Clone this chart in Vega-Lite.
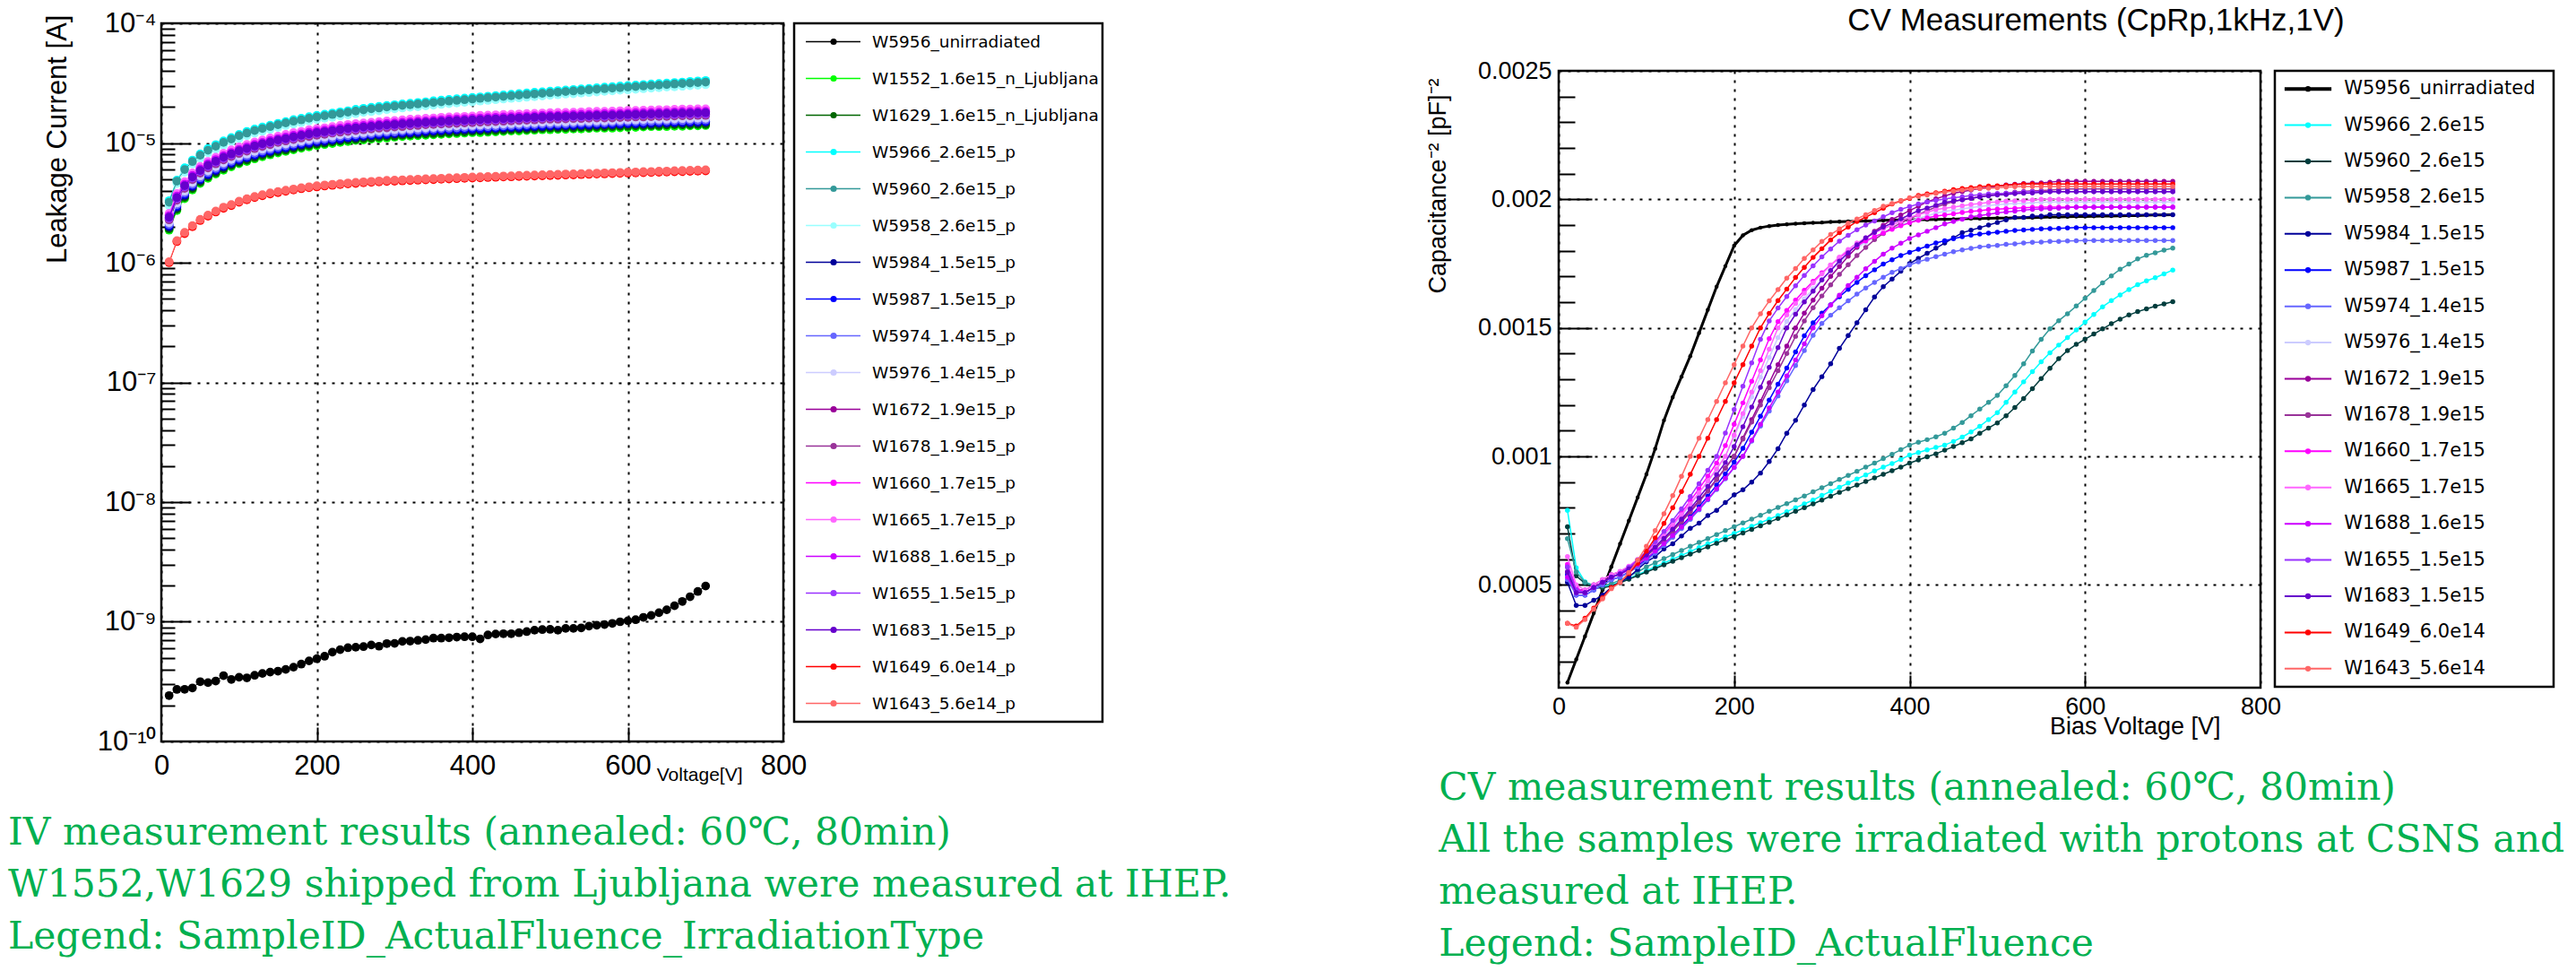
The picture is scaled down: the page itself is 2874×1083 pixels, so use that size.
{
"$schema":"https://vega.github.io/schema/vega-lite/v6.json",
"background":"white",
"padding":{"left":8,"top":6,"right":5,"bottom":5},
"config":{
 "view":{"stroke":"#000","strokeWidth":2.5},
 "axis":{"labelFont":"Liberation Sans","labelColor":"#000","titleFont":"Liberation Sans","titleColor":"#000","titleFontWeight":"normal","gridColor":"#000","gridDash":[3,7],"gridWidth":2,"gridOpacity":1,"tickColor":"#000","tickWidth":2,"domain":false,"labelOverlap":false,"labelFlush":false,"labelBound":false},
 "title":{"font":"Liberation Sans","fontWeight":"normal","color":"#000"}
},
"datasets":{
 "ivleg":[{"n":"W5956_unirradiated"},{"n":"W1552_1.6e15_n_Ljubljana"},{"n":"W1629_1.6e15_n_Ljubljana"},{"n":"W5966_2.6e15_p"},{"n":"W5960_2.6e15_p"},{"n":"W5958_2.6e15_p"},{"n":"W5984_1.5e15_p"},{"n":"W5987_1.5e15_p"},{"n":"W5974_1.4e15_p"},{"n":"W5976_1.4e15_p"},{"n":"W1672_1.9e15_p"},{"n":"W1678_1.9e15_p"},{"n":"W1660_1.7e15_p"},{"n":"W1665_1.7e15_p"},{"n":"W1688_1.6e15_p"},{"n":"W1655_1.5e15_p"},{"n":"W1683_1.5e15_p"},{"n":"W1649_6.0e14_p"},{"n":"W1643_5.6e14_p"}],
 "cvleg":[{"n":"W5956_unirradiated"},{"n":"W5966_2.6e15"},{"n":"W5960_2.6e15"},{"n":"W5958_2.6e15"},{"n":"W5984_1.5e15"},{"n":"W5987_1.5e15"},{"n":"W5974_1.4e15"},{"n":"W5976_1.4e15"},{"n":"W1672_1.9e15"},{"n":"W1678_1.9e15"},{"n":"W1660_1.7e15"},{"n":"W1665_1.7e15"},{"n":"W1688_1.6e15"},{"n":"W1655_1.5e15"},{"n":"W1683_1.5e15"},{"n":"W1649_6.0e14"},{"n":"W1643_5.6e14"}],
 "i1":[{"v":10,"y":2.42e-10},{"v":20,"y":2.72e-10},{"v":30,"y":2.73e-10},{"v":40,"y":2.8e-10},{"v":50,"y":3.16e-10},{"v":60,"y":3.1e-10},{"v":70,"y":3.2e-10},{"v":80,"y":3.55e-10},{"v":90,"y":3.3e-10},{"v":100,"y":3.44e-10},{"v":110,"y":3.4e-10},{"v":120,"y":3.57e-10},{"v":130,"y":3.7e-10},{"v":140,"y":3.8e-10},{"v":150,"y":3.87e-10},{"v":160,"y":4e-10},{"v":170,"y":4.18e-10},{"v":180,"y":4.43e-10},{"v":190,"y":4.71e-10},{"v":200,"y":4.91e-10},{"v":210,"y":5.15e-10},{"v":220,"y":5.58e-10},{"v":230,"y":5.85e-10},{"v":240,"y":6.07e-10},{"v":250,"y":6.13e-10},{"v":260,"y":6.2e-10},{"v":270,"y":6.4e-10},{"v":280,"y":6.25e-10},{"v":290,"y":6.58e-10},{"v":300,"y":6.6e-10},{"v":310,"y":6.86e-10},{"v":320,"y":6.9e-10},{"v":330,"y":7e-10},{"v":340,"y":7.1e-10},{"v":350,"y":7.3e-10},{"v":360,"y":7.3e-10},{"v":370,"y":7.36e-10},{"v":380,"y":7.45e-10},{"v":390,"y":7.5e-10},{"v":400,"y":7.5e-10},{"v":410,"y":7.2e-10},{"v":420,"y":7.76e-10},{"v":430,"y":7.9e-10},{"v":440,"y":7.95e-10},{"v":450,"y":7.95e-10},{"v":460,"y":8.1e-10},{"v":470,"y":8.28e-10},{"v":480,"y":8.5e-10},{"v":490,"y":8.6e-10},{"v":500,"y":8.64e-10},{"v":510,"y":8.5e-10},{"v":520,"y":8.8e-10},{"v":530,"y":8.8e-10},{"v":540,"y":8.9e-10},{"v":550,"y":9.2e-10},{"v":560,"y":9.37e-10},{"v":570,"y":9.48e-10},{"v":580,"y":9.7e-10},{"v":590,"y":1e-9},{"v":600,"y":1.02e-9},{"v":610,"y":1.04e-9},{"v":620,"y":1.09e-9},{"v":630,"y":1.13e-9},{"v":640,"y":1.19e-9},{"v":650,"y":1.26e-9},{"v":660,"y":1.36e-9},{"v":670,"y":1.48e-9},{"v":680,"y":1.62e-9},{"v":690,"y":1.79e-9},{"v":700,"y":1.99e-9}],
 "i2":[{"v":10,"y":1.87e-6},{"v":20,"y":2.73e-6},{"v":30,"y":3.43e-6},{"v":40,"y":4.06e-6},{"v":50,"y":4.6e-6},{"v":60,"y":5.07e-6},{"v":70,"y":5.5e-6},{"v":80,"y":5.93e-6},{"v":90,"y":6.32e-6},{"v":100,"y":6.71e-6},{"v":110,"y":7.02e-6},{"v":120,"y":7.37e-6},{"v":130,"y":7.68e-6},{"v":140,"y":7.96e-6},{"v":150,"y":8.27e-6},{"v":160,"y":8.5e-6},{"v":170,"y":8.78e-6},{"v":180,"y":9.05e-6},{"v":190,"y":9.28e-6},{"v":200,"y":9.52e-6},{"v":210,"y":9.71e-6},{"v":220,"y":9.91e-6},{"v":230,"y":1.01e-5},{"v":240,"y":1.03e-5},{"v":250,"y":1.05e-5},{"v":260,"y":1.06e-5},{"v":270,"y":1.08e-5},{"v":280,"y":1.09e-5},{"v":290,"y":1.1e-5},{"v":300,"y":1.12e-5},{"v":310,"y":1.13e-5},{"v":320,"y":1.14e-5},{"v":330,"y":1.15e-5},{"v":340,"y":1.16e-5},{"v":350,"y":1.17e-5},{"v":360,"y":1.18e-5},{"v":370,"y":1.19e-5},{"v":380,"y":1.2e-5},{"v":390,"y":1.21e-5},{"v":400,"y":1.22e-5},{"v":410,"y":1.22e-5},{"v":420,"y":1.23e-5},{"v":430,"y":1.24e-5},{"v":440,"y":1.25e-5},{"v":450,"y":1.26e-5},{"v":460,"y":1.26e-5},{"v":470,"y":1.27e-5},{"v":480,"y":1.28e-5},{"v":490,"y":1.29e-5},{"v":500,"y":1.29e-5},{"v":510,"y":1.3e-5},{"v":520,"y":1.3e-5},{"v":530,"y":1.31e-5},{"v":540,"y":1.31e-5},{"v":550,"y":1.32e-5},{"v":560,"y":1.33e-5},{"v":570,"y":1.33e-5},{"v":580,"y":1.33e-5},{"v":590,"y":1.34e-5},{"v":600,"y":1.35e-5},{"v":610,"y":1.35e-5},{"v":620,"y":1.36e-5},{"v":630,"y":1.37e-5},{"v":640,"y":1.37e-5},{"v":650,"y":1.37e-5},{"v":660,"y":1.38e-5},{"v":670,"y":1.38e-5},{"v":680,"y":1.39e-5},{"v":690,"y":1.39e-5},{"v":700,"y":1.4e-5}],
 "i3":[{"v":10,"y":1.92e-6},{"v":20,"y":2.8e-6},{"v":30,"y":3.52e-6},{"v":40,"y":4.16e-6},{"v":50,"y":4.72e-6},{"v":60,"y":5.2e-6},{"v":70,"y":5.64e-6},{"v":80,"y":6.08e-6},{"v":90,"y":6.48e-6},{"v":100,"y":6.88e-6},{"v":110,"y":7.2e-6},{"v":120,"y":7.56e-6},{"v":130,"y":7.88e-6},{"v":140,"y":8.16e-6},{"v":150,"y":8.48e-6},{"v":160,"y":8.72e-6},{"v":170,"y":9e-6},{"v":180,"y":9.28e-6},{"v":190,"y":9.52e-6},{"v":200,"y":9.76e-6},{"v":210,"y":9.96e-6},{"v":220,"y":1.02e-5},{"v":230,"y":1.04e-5},{"v":240,"y":1.06e-5},{"v":250,"y":1.07e-5},{"v":260,"y":1.09e-5},{"v":270,"y":1.1e-5},{"v":280,"y":1.12e-5},{"v":290,"y":1.13e-5},{"v":300,"y":1.14e-5},{"v":310,"y":1.16e-5},{"v":320,"y":1.17e-5},{"v":330,"y":1.18e-5},{"v":340,"y":1.19e-5},{"v":350,"y":1.2e-5},{"v":360,"y":1.21e-5},{"v":370,"y":1.22e-5},{"v":380,"y":1.23e-5},{"v":390,"y":1.24e-5},{"v":400,"y":1.25e-5},{"v":410,"y":1.26e-5},{"v":420,"y":1.26e-5},{"v":430,"y":1.27e-5},{"v":440,"y":1.28e-5},{"v":450,"y":1.29e-5},{"v":460,"y":1.3e-5},{"v":470,"y":1.3e-5},{"v":480,"y":1.31e-5},{"v":490,"y":1.32e-5},{"v":500,"y":1.33e-5},{"v":510,"y":1.33e-5},{"v":520,"y":1.34e-5},{"v":530,"y":1.34e-5},{"v":540,"y":1.35e-5},{"v":550,"y":1.35e-5},{"v":560,"y":1.36e-5},{"v":570,"y":1.36e-5},{"v":580,"y":1.37e-5},{"v":590,"y":1.38e-5},{"v":600,"y":1.38e-5},{"v":610,"y":1.39e-5},{"v":620,"y":1.39e-5},{"v":630,"y":1.4e-5},{"v":640,"y":1.4e-5},{"v":650,"y":1.41e-5},{"v":660,"y":1.42e-5},{"v":670,"y":1.42e-5},{"v":680,"y":1.42e-5},{"v":690,"y":1.43e-5},{"v":700,"y":1.43e-5}],
 "i4":[{"v":10,"y":3.3e-6},{"v":20,"y":4.9e-6},{"v":30,"y":6.2e-6},{"v":40,"y":7.2e-6},{"v":50,"y":8.1e-6},{"v":60,"y":9e-6},{"v":70,"y":9.7e-6},{"v":80,"y":1.04e-5},{"v":90,"y":1.11e-5},{"v":100,"y":1.18e-5},{"v":110,"y":1.25e-5},{"v":120,"y":1.31e-5},{"v":130,"y":1.36e-5},{"v":140,"y":1.41e-5},{"v":150,"y":1.46e-5},{"v":160,"y":1.51e-5},{"v":170,"y":1.57e-5},{"v":180,"y":1.61e-5},{"v":190,"y":1.66e-5},{"v":200,"y":1.7e-5},{"v":210,"y":1.74e-5},{"v":220,"y":1.78e-5},{"v":230,"y":1.82e-5},{"v":240,"y":1.86e-5},{"v":250,"y":1.91e-5},{"v":260,"y":1.95e-5},{"v":270,"y":1.99e-5},{"v":280,"y":2.02e-5},{"v":290,"y":2.06e-5},{"v":300,"y":2.09e-5},{"v":310,"y":2.12e-5},{"v":320,"y":2.15e-5},{"v":330,"y":2.18e-5},{"v":340,"y":2.21e-5},{"v":350,"y":2.25e-5},{"v":360,"y":2.28e-5},{"v":370,"y":2.31e-5},{"v":380,"y":2.34e-5},{"v":390,"y":2.37e-5},{"v":400,"y":2.4e-5},{"v":410,"y":2.43e-5},{"v":420,"y":2.46e-5},{"v":430,"y":2.49e-5},{"v":440,"y":2.52e-5},{"v":450,"y":2.55e-5},{"v":460,"y":2.59e-5},{"v":470,"y":2.62e-5},{"v":480,"y":2.65e-5},{"v":490,"y":2.68e-5},{"v":500,"y":2.71e-5},{"v":510,"y":2.74e-5},{"v":520,"y":2.77e-5},{"v":530,"y":2.8e-5},{"v":540,"y":2.83e-5},{"v":550,"y":2.86e-5},{"v":560,"y":2.89e-5},{"v":570,"y":2.93e-5},{"v":580,"y":2.96e-5},{"v":590,"y":2.99e-5},{"v":600,"y":3.02e-5},{"v":610,"y":3.05e-5},{"v":620,"y":3.08e-5},{"v":630,"y":3.11e-5},{"v":640,"y":3.14e-5},{"v":650,"y":3.17e-5},{"v":660,"y":3.2e-5},{"v":670,"y":3.23e-5},{"v":680,"y":3.27e-5},{"v":690,"y":3.3e-5},{"v":700,"y":3.33e-5}],
 "i5":[{"v":10,"y":3.2e-6},{"v":20,"y":4.8e-6},{"v":30,"y":6e-6},{"v":40,"y":7e-6},{"v":50,"y":7.9e-6},{"v":60,"y":8.7e-6},{"v":70,"y":9.4e-6},{"v":80,"y":1.01e-5},{"v":90,"y":1.08e-5},{"v":100,"y":1.15e-5},{"v":110,"y":1.21e-5},{"v":120,"y":1.27e-5},{"v":130,"y":1.32e-5},{"v":140,"y":1.37e-5},{"v":150,"y":1.42e-5},{"v":160,"y":1.47e-5},{"v":170,"y":1.52e-5},{"v":180,"y":1.56e-5},{"v":190,"y":1.61e-5},{"v":200,"y":1.65e-5},{"v":210,"y":1.69e-5},{"v":220,"y":1.73e-5},{"v":230,"y":1.77e-5},{"v":240,"y":1.81e-5},{"v":250,"y":1.85e-5},{"v":260,"y":1.89e-5},{"v":270,"y":1.93e-5},{"v":280,"y":1.96e-5},{"v":290,"y":2e-5},{"v":300,"y":2.03e-5},{"v":310,"y":2.06e-5},{"v":320,"y":2.09e-5},{"v":330,"y":2.12e-5},{"v":340,"y":2.15e-5},{"v":350,"y":2.18e-5},{"v":360,"y":2.21e-5},{"v":370,"y":2.24e-5},{"v":380,"y":2.27e-5},{"v":390,"y":2.3e-5},{"v":400,"y":2.33e-5},{"v":410,"y":2.36e-5},{"v":420,"y":2.39e-5},{"v":430,"y":2.42e-5},{"v":440,"y":2.45e-5},{"v":450,"y":2.48e-5},{"v":460,"y":2.51e-5},{"v":470,"y":2.54e-5},{"v":480,"y":2.57e-5},{"v":490,"y":2.6e-5},{"v":500,"y":2.63e-5},{"v":510,"y":2.66e-5},{"v":520,"y":2.69e-5},{"v":530,"y":2.72e-5},{"v":540,"y":2.75e-5},{"v":550,"y":2.78e-5},{"v":560,"y":2.81e-5},{"v":570,"y":2.84e-5},{"v":580,"y":2.87e-5},{"v":590,"y":2.9e-5},{"v":600,"y":2.93e-5},{"v":610,"y":2.96e-5},{"v":620,"y":2.99e-5},{"v":630,"y":3.02e-5},{"v":640,"y":3.05e-5},{"v":650,"y":3.08e-5},{"v":660,"y":3.11e-5},{"v":670,"y":3.14e-5},{"v":680,"y":3.17e-5},{"v":690,"y":3.2e-5},{"v":700,"y":3.23e-5}],
 "i6":[{"v":10,"y":3e-6},{"v":20,"y":4.6e-6},{"v":30,"y":5.7e-6},{"v":40,"y":6.7e-6},{"v":50,"y":7.5e-6},{"v":60,"y":8.3e-6},{"v":70,"y":8.9e-6},{"v":80,"y":9.6e-6},{"v":90,"y":1.03e-5},{"v":100,"y":1.09e-5},{"v":110,"y":1.15e-5},{"v":120,"y":1.21e-5},{"v":130,"y":1.25e-5},{"v":140,"y":1.3e-5},{"v":150,"y":1.35e-5},{"v":160,"y":1.4e-5},{"v":170,"y":1.44e-5},{"v":180,"y":1.48e-5},{"v":190,"y":1.53e-5},{"v":200,"y":1.57e-5},{"v":210,"y":1.61e-5},{"v":220,"y":1.64e-5},{"v":230,"y":1.68e-5},{"v":240,"y":1.72e-5},{"v":250,"y":1.76e-5},{"v":260,"y":1.8e-5},{"v":270,"y":1.83e-5},{"v":280,"y":1.86e-5},{"v":290,"y":1.9e-5},{"v":300,"y":1.93e-5},{"v":310,"y":1.96e-5},{"v":320,"y":1.99e-5},{"v":330,"y":2.01e-5},{"v":340,"y":2.04e-5},{"v":350,"y":2.07e-5},{"v":360,"y":2.1e-5},{"v":370,"y":2.13e-5},{"v":380,"y":2.16e-5},{"v":390,"y":2.19e-5},{"v":400,"y":2.21e-5},{"v":410,"y":2.24e-5},{"v":420,"y":2.27e-5},{"v":430,"y":2.3e-5},{"v":440,"y":2.33e-5},{"v":450,"y":2.36e-5},{"v":460,"y":2.38e-5},{"v":470,"y":2.41e-5},{"v":480,"y":2.44e-5},{"v":490,"y":2.47e-5},{"v":500,"y":2.5e-5},{"v":510,"y":2.53e-5},{"v":520,"y":2.56e-5},{"v":530,"y":2.58e-5},{"v":540,"y":2.61e-5},{"v":550,"y":2.64e-5},{"v":560,"y":2.67e-5},{"v":570,"y":2.7e-5},{"v":580,"y":2.73e-5},{"v":590,"y":2.76e-5},{"v":600,"y":2.78e-5},{"v":610,"y":2.81e-5},{"v":620,"y":2.84e-5},{"v":630,"y":2.87e-5},{"v":640,"y":2.9e-5},{"v":650,"y":2.93e-5},{"v":660,"y":2.95e-5},{"v":670,"y":2.98e-5},{"v":680,"y":3.01e-5},{"v":690,"y":3.04e-5},{"v":700,"y":3.07e-5}],
 "i7":[{"v":10,"y":1.99e-6},{"v":20,"y":2.91e-6},{"v":30,"y":3.65e-6},{"v":40,"y":4.32e-6},{"v":50,"y":4.9e-6},{"v":60,"y":5.4e-6},{"v":70,"y":5.85e-6},{"v":80,"y":6.31e-6},{"v":90,"y":6.72e-6},{"v":100,"y":7.14e-6},{"v":110,"y":7.47e-6},{"v":120,"y":7.84e-6},{"v":130,"y":8.18e-6},{"v":140,"y":8.47e-6},{"v":150,"y":8.8e-6},{"v":160,"y":9.05e-6},{"v":170,"y":9.34e-6},{"v":180,"y":9.63e-6},{"v":190,"y":9.88e-6},{"v":200,"y":1.01e-5},{"v":210,"y":1.03e-5},{"v":220,"y":1.05e-5},{"v":230,"y":1.07e-5},{"v":240,"y":1.1e-5},{"v":250,"y":1.11e-5},{"v":260,"y":1.13e-5},{"v":270,"y":1.15e-5},{"v":280,"y":1.16e-5},{"v":290,"y":1.17e-5},{"v":300,"y":1.19e-5},{"v":310,"y":1.2e-5},{"v":320,"y":1.21e-5},{"v":330,"y":1.22e-5},{"v":340,"y":1.24e-5},{"v":350,"y":1.25e-5},{"v":360,"y":1.26e-5},{"v":370,"y":1.27e-5},{"v":380,"y":1.28e-5},{"v":390,"y":1.29e-5},{"v":400,"y":1.29e-5},{"v":410,"y":1.3e-5},{"v":420,"y":1.31e-5},{"v":430,"y":1.32e-5},{"v":440,"y":1.33e-5},{"v":450,"y":1.34e-5},{"v":460,"y":1.34e-5},{"v":470,"y":1.35e-5},{"v":480,"y":1.36e-5},{"v":490,"y":1.37e-5},{"v":500,"y":1.38e-5},{"v":510,"y":1.38e-5},{"v":520,"y":1.39e-5},{"v":530,"y":1.39e-5},{"v":540,"y":1.4e-5},{"v":550,"y":1.4e-5},{"v":560,"y":1.41e-5},{"v":570,"y":1.42e-5},{"v":580,"y":1.42e-5},{"v":590,"y":1.43e-5},{"v":600,"y":1.44e-5},{"v":610,"y":1.44e-5},{"v":620,"y":1.44e-5},{"v":630,"y":1.45e-5},{"v":640,"y":1.46e-5},{"v":650,"y":1.46e-5},{"v":660,"y":1.47e-5},{"v":670,"y":1.47e-5},{"v":680,"y":1.48e-5},{"v":690,"y":1.48e-5},{"v":700,"y":1.49e-5}],
 "i8":[{"v":10,"y":2.04e-6},{"v":20,"y":2.98e-6},{"v":30,"y":3.74e-6},{"v":40,"y":4.42e-6},{"v":50,"y":5.02e-6},{"v":60,"y":5.53e-6},{"v":70,"y":5.99e-6},{"v":80,"y":6.46e-6},{"v":90,"y":6.89e-6},{"v":100,"y":7.31e-6},{"v":110,"y":7.65e-6},{"v":120,"y":8.03e-6},{"v":130,"y":8.37e-6},{"v":140,"y":8.67e-6},{"v":150,"y":9.01e-6},{"v":160,"y":9.27e-6},{"v":170,"y":9.56e-6},{"v":180,"y":9.86e-6},{"v":190,"y":1.01e-5},{"v":200,"y":1.04e-5},{"v":210,"y":1.06e-5},{"v":220,"y":1.08e-5},{"v":230,"y":1.1e-5},{"v":240,"y":1.12e-5},{"v":250,"y":1.14e-5},{"v":260,"y":1.16e-5},{"v":270,"y":1.17e-5},{"v":280,"y":1.19e-5},{"v":290,"y":1.2e-5},{"v":300,"y":1.22e-5},{"v":310,"y":1.23e-5},{"v":320,"y":1.24e-5},{"v":330,"y":1.25e-5},{"v":340,"y":1.27e-5},{"v":350,"y":1.28e-5},{"v":360,"y":1.29e-5},{"v":370,"y":1.3e-5},{"v":380,"y":1.31e-5},{"v":390,"y":1.32e-5},{"v":400,"y":1.33e-5},{"v":410,"y":1.33e-5},{"v":420,"y":1.34e-5},{"v":430,"y":1.35e-5},{"v":440,"y":1.36e-5},{"v":450,"y":1.37e-5},{"v":460,"y":1.38e-5},{"v":470,"y":1.39e-5},{"v":480,"y":1.39e-5},{"v":490,"y":1.4e-5},{"v":500,"y":1.41e-5},{"v":510,"y":1.42e-5},{"v":520,"y":1.42e-5},{"v":530,"y":1.43e-5},{"v":540,"y":1.43e-5},{"v":550,"y":1.44e-5},{"v":560,"y":1.45e-5},{"v":570,"y":1.45e-5},{"v":580,"y":1.45e-5},{"v":590,"y":1.46e-5},{"v":600,"y":1.47e-5},{"v":610,"y":1.47e-5},{"v":620,"y":1.48e-5},{"v":630,"y":1.49e-5},{"v":640,"y":1.49e-5},{"v":650,"y":1.5e-5},{"v":660,"y":1.5e-5},{"v":670,"y":1.51e-5},{"v":680,"y":1.51e-5},{"v":690,"y":1.52e-5},{"v":700,"y":1.52e-5}],
 "i9":[{"v":10,"y":2.09e-6},{"v":20,"y":3.05e-6},{"v":30,"y":3.83e-6},{"v":40,"y":4.52e-6},{"v":50,"y":5.13e-6},{"v":60,"y":5.66e-6},{"v":70,"y":6.13e-6},{"v":80,"y":6.61e-6},{"v":90,"y":7.05e-6},{"v":100,"y":7.48e-6},{"v":110,"y":7.83e-6},{"v":120,"y":8.22e-6},{"v":130,"y":8.57e-6},{"v":140,"y":8.87e-6},{"v":150,"y":9.22e-6},{"v":160,"y":9.48e-6},{"v":170,"y":9.79e-6},{"v":180,"y":1.01e-5},{"v":190,"y":1.04e-5},{"v":200,"y":1.06e-5},{"v":210,"y":1.08e-5},{"v":220,"y":1.1e-5},{"v":230,"y":1.13e-5},{"v":240,"y":1.15e-5},{"v":250,"y":1.17e-5},{"v":260,"y":1.18e-5},{"v":270,"y":1.2e-5},{"v":280,"y":1.22e-5},{"v":290,"y":1.23e-5},{"v":300,"y":1.24e-5},{"v":310,"y":1.26e-5},{"v":320,"y":1.27e-5},{"v":330,"y":1.28e-5},{"v":340,"y":1.3e-5},{"v":350,"y":1.31e-5},{"v":360,"y":1.32e-5},{"v":370,"y":1.33e-5},{"v":380,"y":1.34e-5},{"v":390,"y":1.35e-5},{"v":400,"y":1.36e-5},{"v":410,"y":1.37e-5},{"v":420,"y":1.37e-5},{"v":430,"y":1.38e-5},{"v":440,"y":1.39e-5},{"v":450,"y":1.4e-5},{"v":460,"y":1.41e-5},{"v":470,"y":1.42e-5},{"v":480,"y":1.43e-5},{"v":490,"y":1.44e-5},{"v":500,"y":1.44e-5},{"v":510,"y":1.45e-5},{"v":520,"y":1.45e-5},{"v":530,"y":1.46e-5},{"v":540,"y":1.47e-5},{"v":550,"y":1.47e-5},{"v":560,"y":1.48e-5},{"v":570,"y":1.48e-5},{"v":580,"y":1.49e-5},{"v":590,"y":1.5e-5},{"v":600,"y":1.51e-5},{"v":610,"y":1.51e-5},{"v":620,"y":1.51e-5},{"v":630,"y":1.52e-5},{"v":640,"y":1.53e-5},{"v":650,"y":1.53e-5},{"v":660,"y":1.54e-5},{"v":670,"y":1.54e-5},{"v":680,"y":1.55e-5},{"v":690,"y":1.55e-5},{"v":700,"y":1.56e-5}],
 "i10":[{"v":10,"y":2.16e-6},{"v":20,"y":3.15e-6},{"v":30,"y":3.96e-6},{"v":40,"y":4.68e-6},{"v":50,"y":5.31e-6},{"v":60,"y":5.85e-6},{"v":70,"y":6.35e-6},{"v":80,"y":6.84e-6},{"v":90,"y":7.29e-6},{"v":100,"y":7.74e-6},{"v":110,"y":8.1e-6},{"v":120,"y":8.51e-6},{"v":130,"y":8.87e-6},{"v":140,"y":9.18e-6},{"v":150,"y":9.54e-6},{"v":160,"y":9.81e-6},{"v":170,"y":1.01e-5},{"v":180,"y":1.04e-5},{"v":190,"y":1.07e-5},{"v":200,"y":1.1e-5},{"v":210,"y":1.12e-5},{"v":220,"y":1.14e-5},{"v":230,"y":1.17e-5},{"v":240,"y":1.19e-5},{"v":250,"y":1.21e-5},{"v":260,"y":1.22e-5},{"v":270,"y":1.24e-5},{"v":280,"y":1.26e-5},{"v":290,"y":1.27e-5},{"v":300,"y":1.29e-5},{"v":310,"y":1.3e-5},{"v":320,"y":1.31e-5},{"v":330,"y":1.33e-5},{"v":340,"y":1.34e-5},{"v":350,"y":1.35e-5},{"v":360,"y":1.36e-5},{"v":370,"y":1.38e-5},{"v":380,"y":1.39e-5},{"v":390,"y":1.4e-5},{"v":400,"y":1.4e-5},{"v":410,"y":1.41e-5},{"v":420,"y":1.42e-5},{"v":430,"y":1.43e-5},{"v":440,"y":1.44e-5},{"v":450,"y":1.45e-5},{"v":460,"y":1.46e-5},{"v":470,"y":1.47e-5},{"v":480,"y":1.48e-5},{"v":490,"y":1.49e-5},{"v":500,"y":1.49e-5},{"v":510,"y":1.5e-5},{"v":520,"y":1.5e-5},{"v":530,"y":1.51e-5},{"v":540,"y":1.52e-5},{"v":550,"y":1.52e-5},{"v":560,"y":1.53e-5},{"v":570,"y":1.53e-5},{"v":580,"y":1.54e-5},{"v":590,"y":1.55e-5},{"v":600,"y":1.56e-5},{"v":610,"y":1.56e-5},{"v":620,"y":1.57e-5},{"v":630,"y":1.58e-5},{"v":640,"y":1.58e-5},{"v":650,"y":1.58e-5},{"v":660,"y":1.59e-5},{"v":670,"y":1.6e-5},{"v":680,"y":1.6e-5},{"v":690,"y":1.61e-5},{"v":700,"y":1.61e-5}],
 "i11":[{"v":10,"y":2.33e-6},{"v":20,"y":3.4e-6},{"v":30,"y":4.27e-6},{"v":40,"y":5.04e-6},{"v":50,"y":5.72e-6},{"v":60,"y":6.31e-6},{"v":70,"y":6.84e-6},{"v":80,"y":7.37e-6},{"v":90,"y":7.86e-6},{"v":100,"y":8.34e-6},{"v":110,"y":8.73e-6},{"v":120,"y":9.17e-6},{"v":130,"y":9.55e-6},{"v":140,"y":9.89e-6},{"v":150,"y":1.03e-5},{"v":160,"y":1.06e-5},{"v":170,"y":1.09e-5},{"v":180,"y":1.13e-5},{"v":190,"y":1.15e-5},{"v":200,"y":1.18e-5},{"v":210,"y":1.21e-5},{"v":220,"y":1.23e-5},{"v":230,"y":1.26e-5},{"v":240,"y":1.28e-5},{"v":250,"y":1.3e-5},{"v":260,"y":1.32e-5},{"v":270,"y":1.34e-5},{"v":280,"y":1.36e-5},{"v":290,"y":1.37e-5},{"v":300,"y":1.39e-5},{"v":310,"y":1.4e-5},{"v":320,"y":1.42e-5},{"v":330,"y":1.43e-5},{"v":340,"y":1.45e-5},{"v":350,"y":1.46e-5},{"v":360,"y":1.47e-5},{"v":370,"y":1.48e-5},{"v":380,"y":1.49e-5},{"v":390,"y":1.5e-5},{"v":400,"y":1.51e-5},{"v":410,"y":1.52e-5},{"v":420,"y":1.53e-5},{"v":430,"y":1.54e-5},{"v":440,"y":1.55e-5},{"v":450,"y":1.56e-5},{"v":460,"y":1.57e-5},{"v":470,"y":1.58e-5},{"v":480,"y":1.59e-5},{"v":490,"y":1.6e-5},{"v":500,"y":1.61e-5},{"v":510,"y":1.62e-5},{"v":520,"y":1.62e-5},{"v":530,"y":1.63e-5},{"v":540,"y":1.63e-5},{"v":550,"y":1.64e-5},{"v":560,"y":1.65e-5},{"v":570,"y":1.65e-5},{"v":580,"y":1.66e-5},{"v":590,"y":1.67e-5},{"v":600,"y":1.68e-5},{"v":610,"y":1.68e-5},{"v":620,"y":1.69e-5},{"v":630,"y":1.7e-5},{"v":640,"y":1.7e-5},{"v":650,"y":1.71e-5},{"v":660,"y":1.72e-5},{"v":670,"y":1.72e-5},{"v":680,"y":1.73e-5},{"v":690,"y":1.73e-5},{"v":700,"y":1.74e-5}],
 "i12":[{"v":10,"y":2.28e-6},{"v":20,"y":3.33e-6},{"v":30,"y":4.18e-6},{"v":40,"y":4.94e-6},{"v":50,"y":5.61e-6},{"v":60,"y":6.18e-6},{"v":70,"y":6.7e-6},{"v":80,"y":7.22e-6},{"v":90,"y":7.7e-6},{"v":100,"y":8.17e-6},{"v":110,"y":8.55e-6},{"v":120,"y":8.98e-6},{"v":130,"y":9.36e-6},{"v":140,"y":9.69e-6},{"v":150,"y":1.01e-5},{"v":160,"y":1.04e-5},{"v":170,"y":1.07e-5},{"v":180,"y":1.1e-5},{"v":190,"y":1.13e-5},{"v":200,"y":1.16e-5},{"v":210,"y":1.18e-5},{"v":220,"y":1.21e-5},{"v":230,"y":1.23e-5},{"v":240,"y":1.25e-5},{"v":250,"y":1.27e-5},{"v":260,"y":1.29e-5},{"v":270,"y":1.31e-5},{"v":280,"y":1.33e-5},{"v":290,"y":1.34e-5},{"v":300,"y":1.36e-5},{"v":310,"y":1.37e-5},{"v":320,"y":1.39e-5},{"v":330,"y":1.4e-5},{"v":340,"y":1.42e-5},{"v":350,"y":1.43e-5},{"v":360,"y":1.44e-5},{"v":370,"y":1.45e-5},{"v":380,"y":1.46e-5},{"v":390,"y":1.47e-5},{"v":400,"y":1.48e-5},{"v":410,"y":1.49e-5},{"v":420,"y":1.5e-5},{"v":430,"y":1.51e-5},{"v":440,"y":1.52e-5},{"v":450,"y":1.53e-5},{"v":460,"y":1.54e-5},{"v":470,"y":1.55e-5},{"v":480,"y":1.56e-5},{"v":490,"y":1.57e-5},{"v":500,"y":1.58e-5},{"v":510,"y":1.58e-5},{"v":520,"y":1.59e-5},{"v":530,"y":1.6e-5},{"v":540,"y":1.6e-5},{"v":550,"y":1.61e-5},{"v":560,"y":1.62e-5},{"v":570,"y":1.62e-5},{"v":580,"y":1.62e-5},{"v":590,"y":1.63e-5},{"v":600,"y":1.64e-5},{"v":610,"y":1.65e-5},{"v":620,"y":1.65e-5},{"v":630,"y":1.66e-5},{"v":640,"y":1.67e-5},{"v":650,"y":1.67e-5},{"v":660,"y":1.68e-5},{"v":670,"y":1.69e-5},{"v":680,"y":1.69e-5},{"v":690,"y":1.7e-5},{"v":700,"y":1.7e-5}],
 "i13":[{"v":10,"y":2.52e-6},{"v":20,"y":3.68e-6},{"v":30,"y":4.62e-6},{"v":40,"y":5.46e-6},{"v":50,"y":6.2e-6},{"v":60,"y":6.83e-6},{"v":70,"y":7.4e-6},{"v":80,"y":7.98e-6},{"v":90,"y":8.51e-6},{"v":100,"y":9.03e-6},{"v":110,"y":9.45e-6},{"v":120,"y":9.92e-6},{"v":130,"y":1.03e-5},{"v":140,"y":1.07e-5},{"v":150,"y":1.11e-5},{"v":160,"y":1.14e-5},{"v":170,"y":1.18e-5},{"v":180,"y":1.22e-5},{"v":190,"y":1.25e-5},{"v":200,"y":1.28e-5},{"v":210,"y":1.31e-5},{"v":220,"y":1.33e-5},{"v":230,"y":1.36e-5},{"v":240,"y":1.39e-5},{"v":250,"y":1.41e-5},{"v":260,"y":1.43e-5},{"v":270,"y":1.45e-5},{"v":280,"y":1.47e-5},{"v":290,"y":1.49e-5},{"v":300,"y":1.5e-5},{"v":310,"y":1.52e-5},{"v":320,"y":1.53e-5},{"v":330,"y":1.55e-5},{"v":340,"y":1.56e-5},{"v":350,"y":1.58e-5},{"v":360,"y":1.59e-5},{"v":370,"y":1.61e-5},{"v":380,"y":1.62e-5},{"v":390,"y":1.63e-5},{"v":400,"y":1.64e-5},{"v":410,"y":1.65e-5},{"v":420,"y":1.66e-5},{"v":430,"y":1.67e-5},{"v":440,"y":1.68e-5},{"v":450,"y":1.69e-5},{"v":460,"y":1.7e-5},{"v":470,"y":1.71e-5},{"v":480,"y":1.72e-5},{"v":490,"y":1.73e-5},{"v":500,"y":1.74e-5},{"v":510,"y":1.75e-5},{"v":520,"y":1.75e-5},{"v":530,"y":1.76e-5},{"v":540,"y":1.77e-5},{"v":550,"y":1.77e-5},{"v":560,"y":1.79e-5},{"v":570,"y":1.79e-5},{"v":580,"y":1.8e-5},{"v":590,"y":1.81e-5},{"v":600,"y":1.82e-5},{"v":610,"y":1.82e-5},{"v":620,"y":1.83e-5},{"v":630,"y":1.84e-5},{"v":640,"y":1.84e-5},{"v":650,"y":1.85e-5},{"v":660,"y":1.86e-5},{"v":670,"y":1.86e-5},{"v":680,"y":1.87e-5},{"v":690,"y":1.87e-5},{"v":700,"y":1.88e-5}],
 "i14":[{"v":10,"y":2.59e-6},{"v":20,"y":3.78e-6},{"v":30,"y":4.75e-6},{"v":40,"y":5.62e-6},{"v":50,"y":6.37e-6},{"v":60,"y":7.02e-6},{"v":70,"y":7.61e-6},{"v":80,"y":8.21e-6},{"v":90,"y":8.75e-6},{"v":100,"y":9.29e-6},{"v":110,"y":9.72e-6},{"v":120,"y":1.02e-5},{"v":130,"y":1.06e-5},{"v":140,"y":1.1e-5},{"v":150,"y":1.14e-5},{"v":160,"y":1.18e-5},{"v":170,"y":1.22e-5},{"v":180,"y":1.25e-5},{"v":190,"y":1.29e-5},{"v":200,"y":1.32e-5},{"v":210,"y":1.34e-5},{"v":220,"y":1.37e-5},{"v":230,"y":1.4e-5},{"v":240,"y":1.43e-5},{"v":250,"y":1.45e-5},{"v":260,"y":1.47e-5},{"v":270,"y":1.49e-5},{"v":280,"y":1.51e-5},{"v":290,"y":1.53e-5},{"v":300,"y":1.54e-5},{"v":310,"y":1.56e-5},{"v":320,"y":1.58e-5},{"v":330,"y":1.59e-5},{"v":340,"y":1.61e-5},{"v":350,"y":1.62e-5},{"v":360,"y":1.64e-5},{"v":370,"y":1.65e-5},{"v":380,"y":1.66e-5},{"v":390,"y":1.67e-5},{"v":400,"y":1.68e-5},{"v":410,"y":1.7e-5},{"v":420,"y":1.71e-5},{"v":430,"y":1.72e-5},{"v":440,"y":1.73e-5},{"v":450,"y":1.74e-5},{"v":460,"y":1.75e-5},{"v":470,"y":1.76e-5},{"v":480,"y":1.77e-5},{"v":490,"y":1.78e-5},{"v":500,"y":1.79e-5},{"v":510,"y":1.8e-5},{"v":520,"y":1.8e-5},{"v":530,"y":1.81e-5},{"v":540,"y":1.82e-5},{"v":550,"y":1.83e-5},{"v":560,"y":1.84e-5},{"v":570,"y":1.84e-5},{"v":580,"y":1.85e-5},{"v":590,"y":1.86e-5},{"v":600,"y":1.87e-5},{"v":610,"y":1.87e-5},{"v":620,"y":1.88e-5},{"v":630,"y":1.89e-5},{"v":640,"y":1.9e-5},{"v":650,"y":1.9e-5},{"v":660,"y":1.91e-5},{"v":670,"y":1.92e-5},{"v":680,"y":1.92e-5},{"v":690,"y":1.93e-5},{"v":700,"y":1.93e-5}],
 "i15":[{"v":10,"y":2.47e-6},{"v":20,"y":3.61e-6},{"v":30,"y":4.53e-6},{"v":40,"y":5.36e-6},{"v":50,"y":6.08e-6},{"v":60,"y":6.7e-6},{"v":70,"y":7.26e-6},{"v":80,"y":7.83e-6},{"v":90,"y":8.34e-6},{"v":100,"y":8.86e-6},{"v":110,"y":9.27e-6},{"v":120,"y":9.73e-6},{"v":130,"y":1.01e-5},{"v":140,"y":1.05e-5},{"v":150,"y":1.09e-5},{"v":160,"y":1.12e-5},{"v":170,"y":1.16e-5},{"v":180,"y":1.19e-5},{"v":190,"y":1.23e-5},{"v":200,"y":1.26e-5},{"v":210,"y":1.28e-5},{"v":220,"y":1.31e-5},{"v":230,"y":1.33e-5},{"v":240,"y":1.36e-5},{"v":250,"y":1.38e-5},{"v":260,"y":1.4e-5},{"v":270,"y":1.42e-5},{"v":280,"y":1.44e-5},{"v":290,"y":1.46e-5},{"v":300,"y":1.47e-5},{"v":310,"y":1.49e-5},{"v":320,"y":1.5e-5},{"v":330,"y":1.52e-5},{"v":340,"y":1.53e-5},{"v":350,"y":1.55e-5},{"v":360,"y":1.56e-5},{"v":370,"y":1.58e-5},{"v":380,"y":1.59e-5},{"v":390,"y":1.6e-5},{"v":400,"y":1.61e-5},{"v":410,"y":1.62e-5},{"v":420,"y":1.63e-5},{"v":430,"y":1.64e-5},{"v":440,"y":1.65e-5},{"v":450,"y":1.66e-5},{"v":460,"y":1.67e-5},{"v":470,"y":1.68e-5},{"v":480,"y":1.69e-5},{"v":490,"y":1.7e-5},{"v":500,"y":1.71e-5},{"v":510,"y":1.71e-5},{"v":520,"y":1.72e-5},{"v":530,"y":1.73e-5},{"v":540,"y":1.74e-5},{"v":550,"y":1.74e-5},{"v":560,"y":1.75e-5},{"v":570,"y":1.76e-5},{"v":580,"y":1.76e-5},{"v":590,"y":1.77e-5},{"v":600,"y":1.78e-5},{"v":610,"y":1.79e-5},{"v":620,"y":1.79e-5},{"v":630,"y":1.8e-5},{"v":640,"y":1.81e-5},{"v":650,"y":1.81e-5},{"v":660,"y":1.82e-5},{"v":670,"y":1.83e-5},{"v":680,"y":1.83e-5},{"v":690,"y":1.84e-5},{"v":700,"y":1.84e-5}],
 "i16":[{"v":10,"y":2.35e-6},{"v":20,"y":3.43e-6},{"v":30,"y":4.31e-6},{"v":40,"y":5.1e-6},{"v":50,"y":5.78e-6},{"v":60,"y":6.37e-6},{"v":70,"y":6.91e-6},{"v":80,"y":7.45e-6},{"v":90,"y":7.94e-6},{"v":100,"y":8.43e-6},{"v":110,"y":8.82e-6},{"v":120,"y":9.26e-6},{"v":130,"y":9.65e-6},{"v":140,"y":1e-5},{"v":150,"y":1.04e-5},{"v":160,"y":1.07e-5},{"v":170,"y":1.1e-5},{"v":180,"y":1.14e-5},{"v":190,"y":1.17e-5},{"v":200,"y":1.2e-5},{"v":210,"y":1.22e-5},{"v":220,"y":1.24e-5},{"v":230,"y":1.27e-5},{"v":240,"y":1.29e-5},{"v":250,"y":1.31e-5},{"v":260,"y":1.33e-5},{"v":270,"y":1.35e-5},{"v":280,"y":1.37e-5},{"v":290,"y":1.39e-5},{"v":300,"y":1.4e-5},{"v":310,"y":1.42e-5},{"v":320,"y":1.43e-5},{"v":330,"y":1.45e-5},{"v":340,"y":1.46e-5},{"v":350,"y":1.47e-5},{"v":360,"y":1.48e-5},{"v":370,"y":1.5e-5},{"v":380,"y":1.51e-5},{"v":390,"y":1.52e-5},{"v":400,"y":1.53e-5},{"v":410,"y":1.54e-5},{"v":420,"y":1.55e-5},{"v":430,"y":1.56e-5},{"v":440,"y":1.57e-5},{"v":450,"y":1.58e-5},{"v":460,"y":1.59e-5},{"v":470,"y":1.6e-5},{"v":480,"y":1.61e-5},{"v":490,"y":1.62e-5},{"v":500,"y":1.63e-5},{"v":510,"y":1.63e-5},{"v":520,"y":1.64e-5},{"v":530,"y":1.65e-5},{"v":540,"y":1.65e-5},{"v":550,"y":1.66e-5},{"v":560,"y":1.67e-5},{"v":570,"y":1.67e-5},{"v":580,"y":1.68e-5},{"v":590,"y":1.69e-5},{"v":600,"y":1.7e-5},{"v":610,"y":1.7e-5},{"v":620,"y":1.71e-5},{"v":630,"y":1.72e-5},{"v":640,"y":1.72e-5},{"v":650,"y":1.72e-5},{"v":660,"y":1.73e-5},{"v":670,"y":1.74e-5},{"v":680,"y":1.74e-5},{"v":690,"y":1.75e-5},{"v":700,"y":1.75e-5}],
 "i17":[{"v":10,"y":2.4e-6},{"v":20,"y":3.5e-6},{"v":30,"y":4.4e-6},{"v":40,"y":5.2e-6},{"v":50,"y":5.9e-6},{"v":60,"y":6.5e-6},{"v":70,"y":7.05e-6},{"v":80,"y":7.6e-6},{"v":90,"y":8.1e-6},{"v":100,"y":8.6e-6},{"v":110,"y":9e-6},{"v":120,"y":9.45e-6},{"v":130,"y":9.85e-6},{"v":140,"y":1.02e-5},{"v":150,"y":1.06e-5},{"v":160,"y":1.09e-5},{"v":170,"y":1.125e-5},{"v":180,"y":1.16e-5},{"v":190,"y":1.19e-5},{"v":200,"y":1.22e-5},{"v":210,"y":1.245e-5},{"v":220,"y":1.27e-5},{"v":230,"y":1.295e-5},{"v":240,"y":1.32e-5},{"v":250,"y":1.34e-5},{"v":260,"y":1.36e-5},{"v":270,"y":1.38e-5},{"v":280,"y":1.4e-5},{"v":290,"y":1.415e-5},{"v":300,"y":1.43e-5},{"v":310,"y":1.445e-5},{"v":320,"y":1.46e-5},{"v":330,"y":1.475e-5},{"v":340,"y":1.49e-5},{"v":350,"y":1.5e-5},{"v":360,"y":1.515e-5},{"v":370,"y":1.53e-5},{"v":380,"y":1.54e-5},{"v":390,"y":1.55e-5},{"v":400,"y":1.56e-5},{"v":410,"y":1.57e-5},{"v":420,"y":1.58e-5},{"v":430,"y":1.59e-5},{"v":440,"y":1.6e-5},{"v":450,"y":1.61e-5},{"v":460,"y":1.62e-5},{"v":470,"y":1.63e-5},{"v":480,"y":1.64e-5},{"v":490,"y":1.65e-5},{"v":500,"y":1.66e-5},{"v":510,"y":1.665e-5},{"v":520,"y":1.67e-5},{"v":530,"y":1.68e-5},{"v":540,"y":1.685e-5},{"v":550,"y":1.69e-5},{"v":560,"y":1.7e-5},{"v":570,"y":1.705e-5},{"v":580,"y":1.71e-5},{"v":590,"y":1.72e-5},{"v":600,"y":1.73e-5},{"v":610,"y":1.735e-5},{"v":620,"y":1.74e-5},{"v":630,"y":1.75e-5},{"v":640,"y":1.755e-5},{"v":650,"y":1.76e-5},{"v":660,"y":1.77e-5},{"v":670,"y":1.775e-5},{"v":680,"y":1.78e-5},{"v":690,"y":1.785e-5},{"v":700,"y":1.79e-5}],
 "i18":[{"v":10,"y":1e-6},{"v":20,"y":1.5e-6},{"v":30,"y":1.75e-6},{"v":40,"y":2e-6},{"v":50,"y":2.25e-6},{"v":60,"y":2.45e-6},{"v":70,"y":2.65e-6},{"v":80,"y":2.85e-6},{"v":90,"y":3e-6},{"v":100,"y":3.2e-6},{"v":110,"y":3.35e-6},{"v":120,"y":3.5e-6},{"v":130,"y":3.63e-6},{"v":140,"y":3.75e-6},{"v":150,"y":3.85e-6},{"v":160,"y":3.95e-6},{"v":170,"y":4.05e-6},{"v":180,"y":4.15e-6},{"v":190,"y":4.23e-6},{"v":200,"y":4.3e-6},{"v":210,"y":4.37e-6},{"v":220,"y":4.43e-6},{"v":230,"y":4.49e-6},{"v":240,"y":4.55e-6},{"v":250,"y":4.6e-6},{"v":260,"y":4.65e-6},{"v":270,"y":4.69e-6},{"v":280,"y":4.73e-6},{"v":290,"y":4.77e-6},{"v":300,"y":4.8e-6},{"v":310,"y":4.83e-6},{"v":320,"y":4.86e-6},{"v":330,"y":4.89e-6},{"v":340,"y":4.92e-6},{"v":350,"y":4.95e-6},{"v":360,"y":4.98e-6},{"v":370,"y":5.01e-6},{"v":380,"y":5.04e-6},{"v":390,"y":5.07e-6},{"v":400,"y":5.1e-6},{"v":410,"y":5.12e-6},{"v":420,"y":5.15e-6},{"v":430,"y":5.17e-6},{"v":440,"y":5.2e-6},{"v":450,"y":5.22e-6},{"v":460,"y":5.25e-6},{"v":470,"y":5.27e-6},{"v":480,"y":5.3e-6},{"v":490,"y":5.32e-6},{"v":500,"y":5.35e-6},{"v":510,"y":5.37e-6},{"v":520,"y":5.4e-6},{"v":530,"y":5.42e-6},{"v":540,"y":5.45e-6},{"v":550,"y":5.47e-6},{"v":560,"y":5.5e-6},{"v":570,"y":5.52e-6},{"v":580,"y":5.55e-6},{"v":590,"y":5.57e-6},{"v":600,"y":5.6e-6},{"v":610,"y":5.62e-6},{"v":620,"y":5.65e-6},{"v":630,"y":5.67e-6},{"v":640,"y":5.7e-6},{"v":650,"y":5.72e-6},{"v":660,"y":5.75e-6},{"v":670,"y":5.77e-6},{"v":680,"y":5.8e-6},{"v":690,"y":5.82e-6},{"v":700,"y":5.85e-6}],
 "i19":[{"v":10,"y":1.02e-6},{"v":20,"y":1.53e-6},{"v":30,"y":1.79e-6},{"v":40,"y":2.04e-6},{"v":50,"y":2.3e-6},{"v":60,"y":2.5e-6},{"v":70,"y":2.7e-6},{"v":80,"y":2.91e-6},{"v":90,"y":3.06e-6},{"v":100,"y":3.26e-6},{"v":110,"y":3.42e-6},{"v":120,"y":3.57e-6},{"v":130,"y":3.7e-6},{"v":140,"y":3.83e-6},{"v":150,"y":3.93e-6},{"v":160,"y":4.03e-6},{"v":170,"y":4.13e-6},{"v":180,"y":4.23e-6},{"v":190,"y":4.31e-6},{"v":200,"y":4.39e-6},{"v":210,"y":4.46e-6},{"v":220,"y":4.52e-6},{"v":230,"y":4.58e-6},{"v":240,"y":4.64e-6},{"v":250,"y":4.69e-6},{"v":260,"y":4.74e-6},{"v":270,"y":4.78e-6},{"v":280,"y":4.82e-6},{"v":290,"y":4.87e-6},{"v":300,"y":4.9e-6},{"v":310,"y":4.93e-6},{"v":320,"y":4.96e-6},{"v":330,"y":4.99e-6},{"v":340,"y":5.02e-6},{"v":350,"y":5.05e-6},{"v":360,"y":5.08e-6},{"v":370,"y":5.11e-6},{"v":380,"y":5.14e-6},{"v":390,"y":5.17e-6},{"v":400,"y":5.2e-6},{"v":410,"y":5.22e-6},{"v":420,"y":5.25e-6},{"v":430,"y":5.27e-6},{"v":440,"y":5.3e-6},{"v":450,"y":5.32e-6},{"v":460,"y":5.36e-6},{"v":470,"y":5.38e-6},{"v":480,"y":5.41e-6},{"v":490,"y":5.43e-6},{"v":500,"y":5.46e-6},{"v":510,"y":5.48e-6},{"v":520,"y":5.51e-6},{"v":530,"y":5.53e-6},{"v":540,"y":5.56e-6},{"v":550,"y":5.58e-6},{"v":560,"y":5.61e-6},{"v":570,"y":5.63e-6},{"v":580,"y":5.66e-6},{"v":590,"y":5.68e-6},{"v":600,"y":5.71e-6},{"v":610,"y":5.73e-6},{"v":620,"y":5.76e-6},{"v":630,"y":5.78e-6},{"v":640,"y":5.81e-6},{"v":650,"y":5.83e-6},{"v":660,"y":5.87e-6},{"v":670,"y":5.89e-6},{"v":680,"y":5.92e-6},{"v":690,"y":5.94e-6},{"v":700,"y":5.97e-6}],
 "c1":[{"v":10,"y":0.00012},{"v":20,"y":0.00021},{"v":30,"y":0.0003},{"v":40,"y":0.00039},{"v":50,"y":0.00048},{"v":60,"y":0.00057},{"v":70,"y":0.00066},{"v":80,"y":0.00075},{"v":90,"y":0.00084},{"v":100,"y":0.00093},{"v":110,"y":0.00103},{"v":120,"y":0.00114},{"v":130,"y":0.00123},{"v":140,"y":0.00131},{"v":150,"y":0.00139},{"v":160,"y":0.00148},{"v":170,"y":0.00157},{"v":180,"y":0.00166},{"v":190,"y":0.00174},{"v":200,"y":0.00182},{"v":210,"y":0.00186},{"v":220,"y":0.00188},{"v":230,"y":0.00189},{"v":240,"y":0.001896},{"v":250,"y":0.0019},{"v":260,"y":0.001903},{"v":270,"y":0.001905},{"v":280,"y":0.001907},{"v":290,"y":0.001909},{"v":300,"y":0.00191},{"v":310,"y":0.001912},{"v":320,"y":0.001913},{"v":330,"y":0.001914},{"v":340,"y":0.001915},{"v":350,"y":0.001916},{"v":360,"y":0.001917},{"v":370,"y":0.001918},{"v":380,"y":0.001919},{"v":390,"y":0.00192},{"v":400,"y":0.00192},{"v":410,"y":0.001921},{"v":420,"y":0.001921},{"v":430,"y":0.001922},{"v":440,"y":0.001923},{"v":450,"y":0.001923},{"v":460,"y":0.001924},{"v":470,"y":0.001925},{"v":480,"y":0.001925},{"v":490,"y":0.001926},{"v":500,"y":0.001927},{"v":510,"y":0.001927},{"v":520,"y":0.001928},{"v":530,"y":0.001929},{"v":540,"y":0.001929},{"v":550,"y":0.00193},{"v":560,"y":0.001931},{"v":570,"y":0.001931},{"v":580,"y":0.001932},{"v":590,"y":0.001933},{"v":600,"y":0.001933},{"v":610,"y":0.001934},{"v":620,"y":0.001935},{"v":630,"y":0.001935},{"v":640,"y":0.001936},{"v":650,"y":0.001937},{"v":660,"y":0.001937},{"v":670,"y":0.001938},{"v":680,"y":0.001939},{"v":690,"y":0.001939},{"v":700,"y":0.00194}],
 "c2":[{"v":10,"y":0.00079},{"v":20,"y":0.000567},{"v":30,"y":0.000512},{"v":40,"y":0.000496},{"v":50,"y":0.000494},{"v":60,"y":0.0005},{"v":70,"y":0.00051},{"v":80,"y":0.000525},{"v":90,"y":0.00054},{"v":100,"y":0.000555},{"v":110,"y":0.00057},{"v":120,"y":0.000585},{"v":130,"y":0.0006},{"v":140,"y":0.000615},{"v":150,"y":0.00063},{"v":160,"y":0.000645},{"v":170,"y":0.00066},{"v":180,"y":0.000673},{"v":190,"y":0.000687},{"v":200,"y":0.0007},{"v":210,"y":0.000714},{"v":220,"y":0.000728},{"v":230,"y":0.000742},{"v":240,"y":0.000756},{"v":250,"y":0.00077},{"v":260,"y":0.000785},{"v":270,"y":0.0008},{"v":280,"y":0.000815},{"v":290,"y":0.00083},{"v":300,"y":0.000848},{"v":310,"y":0.000864},{"v":320,"y":0.00088},{"v":330,"y":0.000896},{"v":340,"y":0.000912},{"v":350,"y":0.000928},{"v":360,"y":0.000943},{"v":370,"y":0.000958},{"v":380,"y":0.000972},{"v":390,"y":0.000988},{"v":400,"y":0.001005},{"v":410,"y":0.001015},{"v":420,"y":0.001025},{"v":430,"y":0.001035},{"v":440,"y":0.001044},{"v":450,"y":0.001058},{"v":460,"y":0.001075},{"v":470,"y":0.001095},{"v":480,"y":0.001117},{"v":490,"y":0.001143},{"v":500,"y":0.00117},{"v":510,"y":0.00121},{"v":520,"y":0.00125},{"v":530,"y":0.00129},{"v":540,"y":0.00133},{"v":550,"y":0.001368},{"v":560,"y":0.001403},{"v":570,"y":0.001433},{"v":580,"y":0.001462},{"v":590,"y":0.001492},{"v":600,"y":0.001522},{"v":610,"y":0.001552},{"v":620,"y":0.001582},{"v":630,"y":0.001606},{"v":640,"y":0.001628},{"v":650,"y":0.001649},{"v":660,"y":0.001668},{"v":670,"y":0.001683},{"v":680,"y":0.001695},{"v":690,"y":0.00171},{"v":700,"y":0.001725}],
 "c3":[{"v":10,"y":0.000726},{"v":20,"y":0.000535},{"v":30,"y":0.000506},{"v":40,"y":0.000488},{"v":50,"y":0.000488},{"v":60,"y":0.000496},{"v":70,"y":0.000508},{"v":80,"y":0.000522},{"v":90,"y":0.000536},{"v":100,"y":0.00055},{"v":110,"y":0.000564},{"v":120,"y":0.000578},{"v":130,"y":0.000592},{"v":140,"y":0.000606},{"v":150,"y":0.00062},{"v":160,"y":0.000634},{"v":170,"y":0.000648},{"v":180,"y":0.000662},{"v":190,"y":0.000676},{"v":200,"y":0.000688},{"v":210,"y":0.000702},{"v":220,"y":0.000716},{"v":230,"y":0.00073},{"v":240,"y":0.000744},{"v":250,"y":0.000758},{"v":260,"y":0.000772},{"v":270,"y":0.000786},{"v":280,"y":0.0008},{"v":290,"y":0.000815},{"v":300,"y":0.00083},{"v":310,"y":0.000845},{"v":320,"y":0.00086},{"v":330,"y":0.000874},{"v":340,"y":0.000888},{"v":350,"y":0.000902},{"v":360,"y":0.000916},{"v":370,"y":0.00093},{"v":380,"y":0.000944},{"v":390,"y":0.000958},{"v":400,"y":0.000974},{"v":410,"y":0.000986},{"v":420,"y":0.000998},{"v":430,"y":0.00101},{"v":440,"y":0.001024},{"v":450,"y":0.001038},{"v":460,"y":0.001053},{"v":470,"y":0.001068},{"v":480,"y":0.00109},{"v":490,"y":0.00111},{"v":500,"y":0.00113},{"v":510,"y":0.001158},{"v":520,"y":0.00119},{"v":530,"y":0.001225},{"v":540,"y":0.001263},{"v":550,"y":0.001303},{"v":560,"y":0.001343},{"v":570,"y":0.00138},{"v":580,"y":0.001412},{"v":590,"y":0.001436},{"v":600,"y":0.001456},{"v":610,"y":0.001476},{"v":620,"y":0.001496},{"v":630,"y":0.001516},{"v":640,"y":0.001534},{"v":650,"y":0.00155},{"v":660,"y":0.001563},{"v":670,"y":0.001574},{"v":680,"y":0.001584},{"v":690,"y":0.001593},{"v":700,"y":0.001602}],
 "c4":[{"v":10,"y":0.00068},{"v":20,"y":0.00055},{"v":30,"y":0.00051},{"v":40,"y":0.000498},{"v":50,"y":0.000496},{"v":60,"y":0.000505},{"v":70,"y":0.000518},{"v":80,"y":0.000535},{"v":90,"y":0.00055},{"v":100,"y":0.00057},{"v":110,"y":0.000586},{"v":120,"y":0.000602},{"v":130,"y":0.000618},{"v":140,"y":0.000634},{"v":150,"y":0.00065},{"v":160,"y":0.000665},{"v":170,"y":0.00068},{"v":180,"y":0.000696},{"v":190,"y":0.000711},{"v":200,"y":0.000726},{"v":210,"y":0.000741},{"v":220,"y":0.000756},{"v":230,"y":0.000771},{"v":240,"y":0.000786},{"v":250,"y":0.000801},{"v":260,"y":0.000816},{"v":270,"y":0.000831},{"v":280,"y":0.000846},{"v":290,"y":0.000862},{"v":300,"y":0.000878},{"v":310,"y":0.000894},{"v":320,"y":0.00091},{"v":330,"y":0.000926},{"v":340,"y":0.000942},{"v":350,"y":0.000958},{"v":360,"y":0.000974},{"v":370,"y":0.000991},{"v":380,"y":0.001008},{"v":390,"y":0.001026},{"v":400,"y":0.001044},{"v":410,"y":0.001055},{"v":420,"y":0.001065},{"v":430,"y":0.001076},{"v":440,"y":0.00109},{"v":450,"y":0.00111},{"v":460,"y":0.001132},{"v":470,"y":0.001158},{"v":480,"y":0.001184},{"v":490,"y":0.00121},{"v":500,"y":0.001237},{"v":510,"y":0.001275},{"v":520,"y":0.001315},{"v":530,"y":0.00136},{"v":540,"y":0.00141},{"v":550,"y":0.001455},{"v":560,"y":0.001496},{"v":570,"y":0.001528},{"v":580,"y":0.001555},{"v":590,"y":0.001585},{"v":600,"y":0.001615},{"v":610,"y":0.001645},{"v":620,"y":0.001675},{"v":630,"y":0.001702},{"v":640,"y":0.001728},{"v":650,"y":0.001748},{"v":660,"y":0.001768},{"v":670,"y":0.001782},{"v":680,"y":0.001792},{"v":690,"y":0.001802},{"v":700,"y":0.00181}],
 "c5":[{"v":10,"y":0.00051},{"v":20,"y":0.00042},{"v":30,"y":0.00042},{"v":40,"y":0.00044},{"v":50,"y":0.00046},{"v":60,"y":0.00049},{"v":70,"y":0.00051},{"v":80,"y":0.00053},{"v":90,"y":0.00056},{"v":100,"y":0.00059},{"v":110,"y":0.00061},{"v":120,"y":0.00064},{"v":130,"y":0.00066},{"v":140,"y":0.00069},{"v":150,"y":0.00072},{"v":160,"y":0.00074},{"v":170,"y":0.00077},{"v":180,"y":0.00079},{"v":190,"y":0.00082},{"v":200,"y":0.00085},{"v":210,"y":0.00087},{"v":220,"y":0.0009},{"v":230,"y":0.000935},{"v":240,"y":0.00098},{"v":250,"y":0.00103},{"v":260,"y":0.00109},{"v":270,"y":0.00114},{"v":280,"y":0.0012},{"v":290,"y":0.00126},{"v":300,"y":0.00131},{"v":310,"y":0.00136},{"v":320,"y":0.00142},{"v":330,"y":0.00147},{"v":340,"y":0.00152},{"v":350,"y":0.00157},{"v":360,"y":0.00162},{"v":370,"y":0.00166},{"v":380,"y":0.00169},{"v":390,"y":0.00172},{"v":400,"y":0.00175},{"v":410,"y":0.00177},{"v":420,"y":0.00179},{"v":430,"y":0.00181},{"v":440,"y":0.00183},{"v":450,"y":0.00185},{"v":460,"y":0.00187},{"v":470,"y":0.00188},{"v":480,"y":0.00189},{"v":490,"y":0.0019},{"v":500,"y":0.00191},{"v":510,"y":0.00192},{"v":520,"y":0.00193},{"v":530,"y":0.00193},{"v":540,"y":0.001935},{"v":550,"y":0.001935},{"v":560,"y":0.00194},{"v":570,"y":0.00194},{"v":580,"y":0.00194},{"v":590,"y":0.00194},{"v":600,"y":0.00194},{"v":610,"y":0.00194},{"v":620,"y":0.00194},{"v":630,"y":0.00194},{"v":640,"y":0.00194},{"v":650,"y":0.00194},{"v":660,"y":0.00194},{"v":670,"y":0.00194},{"v":680,"y":0.00194},{"v":690,"y":0.00194},{"v":700,"y":0.00194}],
 "c6":[{"v":10,"y":0.00054},{"v":20,"y":0.00046},{"v":30,"y":0.00046},{"v":40,"y":0.00048},{"v":50,"y":0.0005},{"v":60,"y":0.00052},{"v":70,"y":0.000531},{"v":80,"y":0.00055},{"v":90,"y":0.000573},{"v":100,"y":0.000599},{"v":110,"y":0.000628},{"v":120,"y":0.00066},{"v":130,"y":0.000693},{"v":140,"y":0.000729},{"v":150,"y":0.000766},{"v":160,"y":0.000805},{"v":170,"y":0.000846},{"v":180,"y":0.000888},{"v":190,"y":0.000932},{"v":200,"y":0.000977},{"v":210,"y":0.001031},{"v":220,"y":0.001094},{"v":230,"y":0.001156},{"v":240,"y":0.001219},{"v":250,"y":0.001281},{"v":260,"y":0.001344},{"v":270,"y":0.001406},{"v":280,"y":0.001469},{"v":290,"y":0.00152},{"v":300,"y":0.001557},{"v":310,"y":0.00159},{"v":320,"y":0.001621},{"v":330,"y":0.00165},{"v":340,"y":0.001677},{"v":350,"y":0.001703},{"v":360,"y":0.001726},{"v":370,"y":0.001748},{"v":380,"y":0.001765},{"v":390,"y":0.001781},{"v":400,"y":0.001794},{"v":410,"y":0.001806},{"v":420,"y":0.001818},{"v":430,"y":0.00183},{"v":440,"y":0.001839},{"v":450,"y":0.001847},{"v":460,"y":0.001855},{"v":470,"y":0.001861},{"v":480,"y":0.001865},{"v":490,"y":0.001869},{"v":500,"y":0.001872},{"v":510,"y":0.001876},{"v":520,"y":0.001879},{"v":530,"y":0.001881},{"v":540,"y":0.001883},{"v":550,"y":0.001885},{"v":560,"y":0.001886},{"v":570,"y":0.001887},{"v":580,"y":0.001889},{"v":590,"y":0.00189},{"v":600,"y":0.00189},{"v":610,"y":0.00189},{"v":620,"y":0.00189},{"v":630,"y":0.00189},{"v":640,"y":0.00189},{"v":650,"y":0.00189},{"v":660,"y":0.00189},{"v":670,"y":0.00189},{"v":680,"y":0.00189},{"v":690,"y":0.00189},{"v":700,"y":0.00189}],
 "c7":[{"v":10,"y":0.00052},{"v":20,"y":0.00046},{"v":30,"y":0.00046},{"v":40,"y":0.00048},{"v":50,"y":0.0005},{"v":60,"y":0.00052},{"v":70,"y":0.000531},{"v":80,"y":0.000549},{"v":90,"y":0.00057},{"v":100,"y":0.000595},{"v":110,"y":0.000623},{"v":120,"y":0.000653},{"v":130,"y":0.000685},{"v":140,"y":0.000719},{"v":150,"y":0.000755},{"v":160,"y":0.000792},{"v":170,"y":0.000831},{"v":180,"y":0.000871},{"v":190,"y":0.000913},{"v":200,"y":0.000956},{"v":210,"y":0.001},{"v":220,"y":0.001059},{"v":230,"y":0.001118},{"v":240,"y":0.001176},{"v":250,"y":0.001235},{"v":260,"y":0.001294},{"v":270,"y":0.001353},{"v":280,"y":0.001412},{"v":290,"y":0.001471},{"v":300,"y":0.001517},{"v":310,"y":0.001549},{"v":320,"y":0.001578},{"v":330,"y":0.001605},{"v":340,"y":0.001631},{"v":350,"y":0.001655},{"v":360,"y":0.001677},{"v":370,"y":0.001697},{"v":380,"y":0.001716},{"v":390,"y":0.001731},{"v":400,"y":0.001745},{"v":410,"y":0.001757},{"v":420,"y":0.001767},{"v":430,"y":0.001777},{"v":440,"y":0.001787},{"v":450,"y":0.001796},{"v":460,"y":0.001803},{"v":470,"y":0.001809},{"v":480,"y":0.001815},{"v":490,"y":0.001818},{"v":500,"y":0.001821},{"v":510,"y":0.001825},{"v":520,"y":0.001827},{"v":530,"y":0.00183},{"v":540,"y":0.001833},{"v":550,"y":0.001834},{"v":560,"y":0.001836},{"v":570,"y":0.001836},{"v":580,"y":0.001838},{"v":590,"y":0.001839},{"v":600,"y":0.00184},{"v":610,"y":0.00184},{"v":620,"y":0.00184},{"v":630,"y":0.00184},{"v":640,"y":0.00184},{"v":650,"y":0.00184},{"v":660,"y":0.00184},{"v":670,"y":0.00184},{"v":680,"y":0.00184},{"v":690,"y":0.00184},{"v":700,"y":0.00184}],
 "c8":[{"v":10,"y":0.00056},{"v":20,"y":0.00048},{"v":30,"y":0.00047},{"v":40,"y":0.00049},{"v":50,"y":0.00051},{"v":60,"y":0.00053},{"v":70,"y":0.000543},{"v":80,"y":0.000564},{"v":90,"y":0.00059},{"v":100,"y":0.00062},{"v":110,"y":0.000653},{"v":120,"y":0.000689},{"v":130,"y":0.000728},{"v":140,"y":0.000768},{"v":150,"y":0.000811},{"v":160,"y":0.000856},{"v":170,"y":0.000902},{"v":180,"y":0.00095},{"v":190,"y":0.001},{"v":200,"y":0.001077},{"v":210,"y":0.001154},{"v":220,"y":0.001231},{"v":230,"y":0.001308},{"v":240,"y":0.001385},{"v":250,"y":0.001462},{"v":260,"y":0.001525},{"v":270,"y":0.001571},{"v":280,"y":0.001613},{"v":290,"y":0.001652},{"v":300,"y":0.001689},{"v":310,"y":0.001723},{"v":320,"y":0.001755},{"v":330,"y":0.001784},{"v":340,"y":0.001811},{"v":350,"y":0.001833},{"v":360,"y":0.001853},{"v":370,"y":0.00187},{"v":380,"y":0.001885},{"v":390,"y":0.001899},{"v":400,"y":0.001914},{"v":410,"y":0.001926},{"v":420,"y":0.001936},{"v":430,"y":0.001946},{"v":440,"y":0.001953},{"v":450,"y":0.001958},{"v":460,"y":0.001963},{"v":470,"y":0.001968},{"v":480,"y":0.001972},{"v":490,"y":0.001976},{"v":500,"y":0.001979},{"v":510,"y":0.001982},{"v":520,"y":0.001984},{"v":530,"y":0.001985},{"v":540,"y":0.001987},{"v":550,"y":0.001989},{"v":560,"y":0.00199},{"v":570,"y":0.00199},{"v":580,"y":0.00199},{"v":590,"y":0.00199},{"v":600,"y":0.00199},{"v":610,"y":0.00199},{"v":620,"y":0.00199},{"v":630,"y":0.00199},{"v":640,"y":0.00199},{"v":650,"y":0.00199},{"v":660,"y":0.00199},{"v":670,"y":0.00199},{"v":680,"y":0.00199},{"v":690,"y":0.00199},{"v":700,"y":0.00199}],
 "c9":[{"v":10,"y":0.00057},{"v":20,"y":0.00048},{"v":30,"y":0.00048},{"v":40,"y":0.0005},{"v":50,"y":0.00052},{"v":60,"y":0.00054},{"v":70,"y":0.000551},{"v":80,"y":0.00057},{"v":90,"y":0.000593},{"v":100,"y":0.00062},{"v":110,"y":0.000649},{"v":120,"y":0.00068},{"v":130,"y":0.000714},{"v":140,"y":0.00075},{"v":150,"y":0.000788},{"v":160,"y":0.000827},{"v":170,"y":0.000868},{"v":180,"y":0.000911},{"v":190,"y":0.000955},{"v":200,"y":0.001},{"v":210,"y":0.001071},{"v":220,"y":0.001143},{"v":230,"y":0.001214},{"v":240,"y":0.001286},{"v":250,"y":0.001357},{"v":260,"y":0.001429},{"v":270,"y":0.0015},{"v":280,"y":0.001557},{"v":290,"y":0.001608},{"v":300,"y":0.001654},{"v":310,"y":0.0017},{"v":320,"y":0.001739},{"v":330,"y":0.001779},{"v":340,"y":0.001814},{"v":350,"y":0.001848},{"v":360,"y":0.001876},{"v":370,"y":0.001899},{"v":380,"y":0.001922},{"v":390,"y":0.001939},{"v":400,"y":0.001956},{"v":410,"y":0.001973},{"v":420,"y":0.00199},{"v":430,"y":0.002002},{"v":440,"y":0.002013},{"v":450,"y":0.002024},{"v":460,"y":0.00203},{"v":470,"y":0.002036},{"v":480,"y":0.002042},{"v":490,"y":0.002047},{"v":500,"y":0.002051},{"v":510,"y":0.002056},{"v":520,"y":0.002059},{"v":530,"y":0.002061},{"v":540,"y":0.002063},{"v":550,"y":0.002064},{"v":560,"y":0.002067},{"v":570,"y":0.00207},{"v":580,"y":0.00207},{"v":590,"y":0.00207},{"v":600,"y":0.00207},{"v":610,"y":0.00207},{"v":620,"y":0.00207},{"v":630,"y":0.00207},{"v":640,"y":0.00207},{"v":650,"y":0.00207},{"v":660,"y":0.00207},{"v":670,"y":0.00207},{"v":680,"y":0.00207},{"v":690,"y":0.00207},{"v":700,"y":0.00207}],
 "c10":[{"v":10,"y":0.00055},{"v":20,"y":0.00048},{"v":30,"y":0.00047},{"v":40,"y":0.00049},{"v":50,"y":0.00051},{"v":60,"y":0.00053},{"v":70,"y":0.000542},{"v":80,"y":0.000561},{"v":90,"y":0.000584},{"v":100,"y":0.000611},{"v":110,"y":0.000641},{"v":120,"y":0.000674},{"v":130,"y":0.000708},{"v":140,"y":0.000745},{"v":150,"y":0.000783},{"v":160,"y":0.000823},{"v":170,"y":0.000865},{"v":180,"y":0.000909},{"v":190,"y":0.000954},{"v":200,"y":0.001},{"v":210,"y":0.001067},{"v":220,"y":0.001133},{"v":230,"y":0.0012},{"v":240,"y":0.001267},{"v":250,"y":0.001333},{"v":260,"y":0.0014},{"v":270,"y":0.001467},{"v":280,"y":0.001527},{"v":290,"y":0.001578},{"v":300,"y":0.001624},{"v":310,"y":0.001667},{"v":320,"y":0.001708},{"v":330,"y":0.001746},{"v":340,"y":0.001781},{"v":350,"y":0.001813},{"v":360,"y":0.001843},{"v":370,"y":0.001867},{"v":380,"y":0.001889},{"v":390,"y":0.001908},{"v":400,"y":0.001924},{"v":410,"y":0.00194},{"v":420,"y":0.001956},{"v":430,"y":0.00197},{"v":440,"y":0.001981},{"v":450,"y":0.001991},{"v":460,"y":0.002},{"v":470,"y":0.002005},{"v":480,"y":0.00201},{"v":490,"y":0.002016},{"v":500,"y":0.00202},{"v":510,"y":0.002024},{"v":520,"y":0.002028},{"v":530,"y":0.002031},{"v":540,"y":0.002033},{"v":550,"y":0.002034},{"v":560,"y":0.002036},{"v":570,"y":0.002039},{"v":580,"y":0.00204},{"v":590,"y":0.00204},{"v":600,"y":0.00204},{"v":610,"y":0.00204},{"v":620,"y":0.00204},{"v":630,"y":0.00204},{"v":640,"y":0.00204},{"v":650,"y":0.00204},{"v":660,"y":0.00204},{"v":670,"y":0.00204},{"v":680,"y":0.00204},{"v":690,"y":0.00204},{"v":700,"y":0.00204}],
 "c11":[{"v":10,"y":0.00058},{"v":20,"y":0.00049},{"v":30,"y":0.00047},{"v":40,"y":0.00049},{"v":50,"y":0.00051},{"v":60,"y":0.00053},{"v":70,"y":0.000544},{"v":80,"y":0.000566},{"v":90,"y":0.000594},{"v":100,"y":0.000625},{"v":110,"y":0.00066},{"v":120,"y":0.000698},{"v":130,"y":0.000739},{"v":140,"y":0.000781},{"v":150,"y":0.000827},{"v":160,"y":0.000874},{"v":170,"y":0.000923},{"v":180,"y":0.000974},{"v":190,"y":0.001042},{"v":200,"y":0.001125},{"v":210,"y":0.001208},{"v":220,"y":0.001292},{"v":230,"y":0.001375},{"v":240,"y":0.001458},{"v":250,"y":0.001524},{"v":260,"y":0.001568},{"v":270,"y":0.001608},{"v":280,"y":0.001646},{"v":290,"y":0.001681},{"v":300,"y":0.001714},{"v":310,"y":0.001744},{"v":320,"y":0.001773},{"v":330,"y":0.001798},{"v":340,"y":0.00182},{"v":350,"y":0.001838},{"v":360,"y":0.001855},{"v":370,"y":0.001869},{"v":380,"y":0.001883},{"v":390,"y":0.001897},{"v":400,"y":0.001909},{"v":410,"y":0.001918},{"v":420,"y":0.001928},{"v":430,"y":0.001935},{"v":440,"y":0.001939},{"v":450,"y":0.001944},{"v":460,"y":0.001949},{"v":470,"y":0.001953},{"v":480,"y":0.001956},{"v":490,"y":0.00196},{"v":500,"y":0.001962},{"v":510,"y":0.001964},{"v":520,"y":0.001965},{"v":530,"y":0.001967},{"v":540,"y":0.001969},{"v":550,"y":0.00197},{"v":560,"y":0.00197},{"v":570,"y":0.00197},{"v":580,"y":0.00197},{"v":590,"y":0.00197},{"v":600,"y":0.00197},{"v":610,"y":0.00197},{"v":620,"y":0.00197},{"v":630,"y":0.00197},{"v":640,"y":0.00197},{"v":650,"y":0.00197},{"v":660,"y":0.00197},{"v":670,"y":0.00197},{"v":680,"y":0.00197},{"v":690,"y":0.00197},{"v":700,"y":0.00197}],
 "c12":[{"v":10,"y":0.00061},{"v":20,"y":0.0005},{"v":30,"y":0.00048},{"v":40,"y":0.0005},{"v":50,"y":0.00052},{"v":60,"y":0.00054},{"v":70,"y":0.000553},{"v":80,"y":0.000573},{"v":90,"y":0.000599},{"v":100,"y":0.000628},{"v":110,"y":0.000661},{"v":120,"y":0.000696},{"v":130,"y":0.000733},{"v":140,"y":0.000773},{"v":150,"y":0.000815},{"v":160,"y":0.000859},{"v":170,"y":0.000904},{"v":180,"y":0.000951},{"v":190,"y":0.001},{"v":200,"y":0.001083},{"v":210,"y":0.001167},{"v":220,"y":0.00125},{"v":230,"y":0.001333},{"v":240,"y":0.001417},{"v":250,"y":0.0015},{"v":260,"y":0.00155},{"v":270,"y":0.001595},{"v":280,"y":0.001635},{"v":290,"y":0.001675},{"v":300,"y":0.00171},{"v":310,"y":0.001745},{"v":320,"y":0.001775},{"v":330,"y":0.001805},{"v":340,"y":0.00183},{"v":350,"y":0.00185},{"v":360,"y":0.00187},{"v":370,"y":0.001885},{"v":380,"y":0.0019},{"v":390,"y":0.001915},{"v":400,"y":0.00193},{"v":410,"y":0.00194},{"v":420,"y":0.00195},{"v":430,"y":0.00196},{"v":440,"y":0.001965},{"v":450,"y":0.00197},{"v":460,"y":0.001975},{"v":470,"y":0.00198},{"v":480,"y":0.001984},{"v":490,"y":0.001988},{"v":500,"y":0.00199},{"v":510,"y":0.001993},{"v":520,"y":0.001994},{"v":530,"y":0.001995},{"v":540,"y":0.001998},{"v":550,"y":0.002},{"v":560,"y":0.002},{"v":570,"y":0.002},{"v":580,"y":0.002},{"v":590,"y":0.002},{"v":600,"y":0.002},{"v":610,"y":0.002},{"v":620,"y":0.002},{"v":630,"y":0.002},{"v":640,"y":0.002},{"v":650,"y":0.002},{"v":660,"y":0.002},{"v":670,"y":0.002},{"v":680,"y":0.002},{"v":690,"y":0.002},{"v":700,"y":0.002}],
 "c13":[{"v":10,"y":0.00053},{"v":20,"y":0.00047},{"v":30,"y":0.00047},{"v":40,"y":0.00049},{"v":50,"y":0.00051},{"v":60,"y":0.00053},{"v":70,"y":0.000541},{"v":80,"y":0.000558},{"v":90,"y":0.000579},{"v":100,"y":0.000604},{"v":110,"y":0.000631},{"v":120,"y":0.00066},{"v":130,"y":0.000692},{"v":140,"y":0.000725},{"v":150,"y":0.00076},{"v":160,"y":0.000796},{"v":170,"y":0.000834},{"v":180,"y":0.000874},{"v":190,"y":0.000915},{"v":200,"y":0.000957},{"v":210,"y":0.001},{"v":220,"y":0.001063},{"v":230,"y":0.001125},{"v":240,"y":0.001188},{"v":250,"y":0.00125},{"v":260,"y":0.001313},{"v":270,"y":0.001375},{"v":280,"y":0.001438},{"v":290,"y":0.0015},{"v":300,"y":0.001547},{"v":310,"y":0.001589},{"v":320,"y":0.001627},{"v":330,"y":0.001665},{"v":340,"y":0.001697},{"v":350,"y":0.00173},{"v":360,"y":0.001759},{"v":370,"y":0.001787},{"v":380,"y":0.00181},{"v":390,"y":0.001829},{"v":400,"y":0.001848},{"v":410,"y":0.001862},{"v":420,"y":0.001876},{"v":430,"y":0.00189},{"v":440,"y":0.001904},{"v":450,"y":0.001914},{"v":460,"y":0.001923},{"v":470,"y":0.001932},{"v":480,"y":0.001937},{"v":490,"y":0.001942},{"v":500,"y":0.001947},{"v":510,"y":0.001951},{"v":520,"y":0.001954},{"v":530,"y":0.001958},{"v":540,"y":0.001961},{"v":550,"y":0.001963},{"v":560,"y":0.001964},{"v":570,"y":0.001965},{"v":580,"y":0.001968},{"v":590,"y":0.00197},{"v":600,"y":0.00197},{"v":610,"y":0.00197},{"v":620,"y":0.00197},{"v":630,"y":0.00197},{"v":640,"y":0.00197},{"v":650,"y":0.00197},{"v":660,"y":0.00197},{"v":670,"y":0.00197},{"v":680,"y":0.00197},{"v":690,"y":0.00197},{"v":700,"y":0.00197}],
 "c14":[{"v":10,"y":0.00057},{"v":20,"y":0.00048},{"v":30,"y":0.00047},{"v":40,"y":0.00049},{"v":50,"y":0.00051},{"v":60,"y":0.00053},{"v":70,"y":0.000545},{"v":80,"y":0.000568},{"v":90,"y":0.000597},{"v":100,"y":0.000631},{"v":110,"y":0.000668},{"v":120,"y":0.000708},{"v":130,"y":0.000751},{"v":140,"y":0.000796},{"v":150,"y":0.000844},{"v":160,"y":0.000894},{"v":170,"y":0.000946},{"v":180,"y":0.001},{"v":190,"y":0.001091},{"v":200,"y":0.001182},{"v":210,"y":0.001273},{"v":220,"y":0.001364},{"v":230,"y":0.001455},{"v":240,"y":0.001527},{"v":250,"y":0.001577},{"v":260,"y":0.001622},{"v":270,"y":0.001664},{"v":280,"y":0.001704},{"v":290,"y":0.001741},{"v":300,"y":0.001776},{"v":310,"y":0.001807},{"v":320,"y":0.001837},{"v":330,"y":0.00186},{"v":340,"y":0.001882},{"v":350,"y":0.0019},{"v":360,"y":0.001916},{"v":370,"y":0.001932},{"v":380,"y":0.001948},{"v":390,"y":0.001961},{"v":400,"y":0.001972},{"v":410,"y":0.001982},{"v":420,"y":0.00199},{"v":430,"y":0.001996},{"v":440,"y":0.002001},{"v":450,"y":0.002006},{"v":460,"y":0.00201},{"v":470,"y":0.002015},{"v":480,"y":0.002018},{"v":490,"y":0.002021},{"v":500,"y":0.002023},{"v":510,"y":0.002024},{"v":520,"y":0.002026},{"v":530,"y":0.002029},{"v":540,"y":0.00203},{"v":550,"y":0.00203},{"v":560,"y":0.00203},{"v":570,"y":0.00203},{"v":580,"y":0.00203},{"v":590,"y":0.00203},{"v":600,"y":0.00203},{"v":610,"y":0.00203},{"v":620,"y":0.00203},{"v":630,"y":0.00203},{"v":640,"y":0.00203},{"v":650,"y":0.00203},{"v":660,"y":0.00203},{"v":670,"y":0.00203},{"v":680,"y":0.00203},{"v":690,"y":0.00203},{"v":700,"y":0.00203}],
 "c15":[{"v":10,"y":0.00055},{"v":20,"y":0.00047},{"v":30,"y":0.00047},{"v":40,"y":0.00049},{"v":50,"y":0.00051},{"v":60,"y":0.00053},{"v":70,"y":0.000542},{"v":80,"y":0.000562},{"v":90,"y":0.000587},{"v":100,"y":0.000616},{"v":110,"y":0.000647},{"v":120,"y":0.000681},{"v":130,"y":0.000717},{"v":140,"y":0.000756},{"v":150,"y":0.000796},{"v":160,"y":0.000839},{"v":170,"y":0.000883},{"v":180,"y":0.000929},{"v":190,"y":0.000976},{"v":200,"y":0.001038},{"v":210,"y":0.001115},{"v":220,"y":0.001192},{"v":230,"y":0.001269},{"v":240,"y":0.001346},{"v":250,"y":0.001423},{"v":260,"y":0.0015},{"v":270,"y":0.001553},{"v":280,"y":0.001601},{"v":290,"y":0.001643},{"v":300,"y":0.001686},{"v":310,"y":0.001723},{"v":320,"y":0.00176},{"v":330,"y":0.001792},{"v":340,"y":0.001823},{"v":350,"y":0.00185},{"v":360,"y":0.001871},{"v":370,"y":0.001892},{"v":380,"y":0.001908},{"v":390,"y":0.001924},{"v":400,"y":0.00194},{"v":410,"y":0.001956},{"v":420,"y":0.001966},{"v":430,"y":0.001977},{"v":440,"y":0.001988},{"v":450,"y":0.001993},{"v":460,"y":0.001998},{"v":470,"y":0.002004},{"v":480,"y":0.002009},{"v":490,"y":0.002013},{"v":500,"y":0.002017},{"v":510,"y":0.002019},{"v":520,"y":0.002022},{"v":530,"y":0.002024},{"v":540,"y":0.002025},{"v":550,"y":0.002027},{"v":560,"y":0.00203},{"v":570,"y":0.00203},{"v":580,"y":0.00203},{"v":590,"y":0.00203},{"v":600,"y":0.00203},{"v":610,"y":0.00203},{"v":620,"y":0.00203},{"v":630,"y":0.00203},{"v":640,"y":0.00203},{"v":650,"y":0.00203},{"v":660,"y":0.00203},{"v":670,"y":0.00203},{"v":680,"y":0.00203},{"v":690,"y":0.00203},{"v":700,"y":0.00203}],
 "c16":[{"v":10,"y":0.00035},{"v":20,"y":0.00034},{"v":30,"y":0.00037},{"v":40,"y":0.00041},{"v":50,"y":0.00045},{"v":60,"y":0.00049},{"v":70,"y":0.00051},{"v":80,"y":0.000544},{"v":90,"y":0.000584},{"v":100,"y":0.000631},{"v":110,"y":0.000683},{"v":120,"y":0.000739},{"v":130,"y":0.0008},{"v":140,"y":0.000863},{"v":150,"y":0.00093},{"v":160,"y":0.001},{"v":170,"y":0.001071},{"v":180,"y":0.001143},{"v":190,"y":0.001214},{"v":200,"y":0.001286},{"v":210,"y":0.001357},{"v":220,"y":0.001429},{"v":230,"y":0.0015},{"v":240,"y":0.001556},{"v":250,"y":0.001606},{"v":260,"y":0.001651},{"v":270,"y":0.001696},{"v":280,"y":0.001735},{"v":290,"y":0.001774},{"v":300,"y":0.001808},{"v":310,"y":0.001842},{"v":320,"y":0.00187},{"v":330,"y":0.001892},{"v":340,"y":0.001914},{"v":350,"y":0.001931},{"v":360,"y":0.001948},{"v":370,"y":0.001965},{"v":380,"y":0.001982},{"v":390,"y":0.001993},{"v":400,"y":0.002004},{"v":410,"y":0.002015},{"v":420,"y":0.002021},{"v":430,"y":0.002026},{"v":440,"y":0.002032},{"v":450,"y":0.002038},{"v":460,"y":0.002042},{"v":470,"y":0.002046},{"v":480,"y":0.002049},{"v":490,"y":0.002052},{"v":500,"y":0.002053},{"v":510,"y":0.002054},{"v":520,"y":0.002057},{"v":530,"y":0.00206},{"v":540,"y":0.00206},{"v":550,"y":0.00206},{"v":560,"y":0.00206},{"v":570,"y":0.00206},{"v":580,"y":0.00206},{"v":590,"y":0.00206},{"v":600,"y":0.00206},{"v":610,"y":0.00206},{"v":620,"y":0.00206},{"v":630,"y":0.00206},{"v":640,"y":0.00206},{"v":650,"y":0.00206},{"v":660,"y":0.00206},{"v":670,"y":0.00206},{"v":680,"y":0.00206},{"v":690,"y":0.00206},{"v":700,"y":0.00206}],
 "c17":[{"v":10,"y":0.00035},{"v":20,"y":0.000335},{"v":30,"y":0.000365},{"v":40,"y":0.000405},{"v":50,"y":0.000445},{"v":60,"y":0.000485},{"v":70,"y":0.000509},{"v":80,"y":0.000548},{"v":90,"y":0.000596},{"v":100,"y":0.00065},{"v":110,"y":0.000711},{"v":120,"y":0.000777},{"v":130,"y":0.000847},{"v":140,"y":0.000922},{"v":150,"y":0.001},{"v":160,"y":0.001071},{"v":170,"y":0.001143},{"v":180,"y":0.001214},{"v":190,"y":0.001286},{"v":200,"y":0.001357},{"v":210,"y":0.001429},{"v":220,"y":0.0015},{"v":230,"y":0.001555},{"v":240,"y":0.001605},{"v":250,"y":0.001649},{"v":260,"y":0.001693},{"v":270,"y":0.001731},{"v":280,"y":0.00177},{"v":290,"y":0.001803},{"v":300,"y":0.001836},{"v":310,"y":0.001863},{"v":320,"y":0.001885},{"v":330,"y":0.001907},{"v":340,"y":0.001924},{"v":350,"y":0.00194},{"v":360,"y":0.001957},{"v":370,"y":0.001973},{"v":380,"y":0.001984},{"v":390,"y":0.001995},{"v":400,"y":0.002006},{"v":410,"y":0.002012},{"v":420,"y":0.002017},{"v":430,"y":0.002023},{"v":440,"y":0.002028},{"v":450,"y":0.002032},{"v":460,"y":0.002036},{"v":470,"y":0.002039},{"v":480,"y":0.002042},{"v":490,"y":0.002043},{"v":500,"y":0.002045},{"v":510,"y":0.002047},{"v":520,"y":0.002049},{"v":530,"y":0.00205},{"v":540,"y":0.00205},{"v":550,"y":0.00205},{"v":560,"y":0.00205},{"v":570,"y":0.00205},{"v":580,"y":0.00205},{"v":590,"y":0.00205},{"v":600,"y":0.00205},{"v":610,"y":0.00205},{"v":620,"y":0.00205},{"v":630,"y":0.00205},{"v":640,"y":0.00205},{"v":650,"y":0.00205},{"v":660,"y":0.00205},{"v":670,"y":0.00205},{"v":680,"y":0.00205},{"v":690,"y":0.00205},{"v":700,"y":0.00205}]
},
"resolve":{"scale":{"color":"independent"}},
"spacing":215,
"hconcat":[
 {"bounds":"flush","spacing":12,
  "title":{"text":["IV measurement results (annealed: 60℃, 80min)","W1552,W1629 shipped from Ljubljana were measured at IHEP.","Legend: SampleID_ActualFluence_IrradiationType"],"orient":"bottom","anchor":"start","font":"DejaVu Serif","fontSize":42.5,"color":"#00b050","lineHeight":58,"baseline":"top","offset":33,"dx":-38},
  "hconcat":[
   {"width":694,"height":801,
    "encoding":{"x":{"field":"v","type":"quantitative","scale":{"domain":[0,800],"nice":false,"zero":false},"axis":null},
                "y":{"field":"y","type":"quantitative","scale":{"type":"log","domain":[1e-10,1e-4],"nice":false},"axis":null}},
    "layer":[
     {"data":{"name":"i1"},"mark":{"type":"point","opacity":0},
      "encoding":{"x":{"field":"v","type":"quantitative","scale":{"domain":[0,800],"nice":false,"zero":false},
                       "axis":{"orient":"bottom","values":[0,200,400,600,800],"grid":true,"ticks":false,"labelFontSize":31,"labelBaseline":"alphabetic","labelPadding":36,"title":"Voltage[V]","titleFontSize":21,"titleAlign":"right","titleAnchor":"end","titleBaseline":"alphabetic","titleX":648,"titleY":43}},
                  "y":{"field":"y","type":"quantitative","scale":{"type":"log","domain":[1e-10,1e-4],"nice":false},
                       "axis":{"orient":"left","values":[1e-10,1e-9,1e-8,1e-7,1e-6,1e-5,1e-4],"grid":true,"ticks":false,"labelFontSize":31,"labelPadding":6,"labelBaseline":"middle","labelExpr":"'10' + ['⁻¹⁰','⁻⁹','⁻⁸','⁻⁷','⁻⁶','⁻⁵','⁻⁴'][round(log(datum.value)/LN10)+10]","title":"Leakage Current [A]","titleFontSize":31,"titleAnchor":"end","titleAlign":"right","titleY":-10,"titlePadding":28}}}},
     {"data":{"name":"i1"},"mark":{"type":"point","opacity":0},
      "encoding":{"x":{"field":"v","type":"quantitative","scale":{"domain":[0,800],"nice":false,"zero":false},
                       "axis":{"orient":"bottom","values":[200,400,600],"labels":false,"grid":false,"ticks":true,"tickSize":-16,"title":null}},
                  "y":{"field":"y","type":"quantitative","scale":{"type":"log","domain":[1e-10,1e-4],"nice":false},
                       "axis":{"orient":"left","values":[1e-9,1e-8,1e-7,1e-6,1e-5],"labels":false,"grid":false,"ticks":true,"tickSize":-32,"title":null}}}},
     {"data":{"name":"i1"},"mark":{"type":"point","opacity":0},
      "encoding":{"y":{"field":"y","type":"quantitative","scale":{"type":"log","domain":[1e-10,1e-4],"nice":false},
                       "axis":{"orient":"left","values":[2e-10,3e-10,4e-10,5e-10,6e-10,7e-10,8e-10,9e-10,2e-9,3e-9,4e-9,5e-9,6e-9,7e-9,8e-9,9e-9,2e-8,3e-8,4e-8,5e-8,6e-8,7e-8,8e-8,9e-8,2e-7,3e-7,4e-7,5e-7,6e-7,7e-7,8e-7,9e-7,2e-6,3e-6,4e-6,5e-6,6e-6,7e-6,8e-6,9e-6,2e-5,3e-5,4e-5,5e-5,6e-5,7e-5,8e-5,9e-5],"labels":false,"grid":false,"ticks":true,"tickSize":-15,"title":null}}}},
     {"data":{"name":"i1"},"mark":{"type":"line","color":"#000000","strokeWidth":1,"point":{"filled":true,"size":95,"color":"#000000"}}},
     {"data":{"name":"i2"},"mark":{"type":"line","color":"#00ff00","strokeWidth":1,"point":{"filled":true,"size":95,"color":"#00ff00"}}},
     {"data":{"name":"i3"},"mark":{"type":"line","color":"#006600","strokeWidth":1,"point":{"filled":true,"size":95,"color":"#006600"}}},
     {"data":{"name":"i4"},"mark":{"type":"line","color":"#00ffff","strokeWidth":1,"point":{"filled":true,"size":95,"color":"#00ffff"}}},
     {"data":{"name":"i6"},"mark":{"type":"line","color":"#99ffff","strokeWidth":1,"point":{"filled":true,"size":95,"color":"#99ffff"}}},
     {"data":{"name":"i5"},"mark":{"type":"line","color":"#339999","strokeWidth":1,"point":{"filled":true,"size":95,"color":"#339999"}}},
     {"data":{"name":"i7"},"mark":{"type":"line","color":"#000099","strokeWidth":1,"point":{"filled":true,"size":95,"color":"#000099"}}},
     {"data":{"name":"i8"},"mark":{"type":"line","color":"#0000ff","strokeWidth":1,"point":{"filled":true,"size":95,"color":"#0000ff"}}},
     {"data":{"name":"i9"},"mark":{"type":"line","color":"#6666ff","strokeWidth":1,"point":{"filled":true,"size":95,"color":"#6666ff"}}},
     {"data":{"name":"i10"},"mark":{"type":"line","color":"#ccccff","strokeWidth":1,"point":{"filled":true,"size":95,"color":"#ccccff"}}},
     {"data":{"name":"i11"},"mark":{"type":"line","color":"#990099","strokeWidth":1,"point":{"filled":true,"size":95,"color":"#990099"}}},
     {"data":{"name":"i12"},"mark":{"type":"line","color":"#993399","strokeWidth":1,"point":{"filled":true,"size":95,"color":"#993399"}}},
     {"data":{"name":"i13"},"mark":{"type":"line","color":"#ff00ff","strokeWidth":1,"point":{"filled":true,"size":95,"color":"#ff00ff"}}},
     {"data":{"name":"i14"},"mark":{"type":"line","color":"#ff66ff","strokeWidth":1,"point":{"filled":true,"size":95,"color":"#ff66ff"}}},
     {"data":{"name":"i15"},"mark":{"type":"line","color":"#cc00ff","strokeWidth":1,"point":{"filled":true,"size":95,"color":"#cc00ff"}}},
     {"data":{"name":"i16"},"mark":{"type":"line","color":"#9933ff","strokeWidth":1,"point":{"filled":true,"size":95,"color":"#9933ff"}}},
     {"data":{"name":"i17"},"mark":{"type":"line","color":"#6600cc","strokeWidth":1,"point":{"filled":true,"size":95,"color":"#6600cc"}}},
     {"data":{"name":"i18"},"mark":{"type":"line","color":"#ff0000","strokeWidth":1,"point":{"filled":true,"size":95,"color":"#ff0000"}}},
     {"data":{"name":"i19"},"mark":{"type":"line","color":"#ff6666","strokeWidth":1,"point":{"filled":true,"size":95,"color":"#ff6666"}}}
    ],
    "resolve":{"axis":{"x":"independent","y":"independent"}}
   },
   {"width":344,"height":779,"data":{"name":"ivleg"},
    "encoding":{"y":{"field":"n","type":"nominal","sort":null,"axis":null}},
    "layer":[
     {"mark":{"type":"rule","strokeWidth":1.5},
      "encoding":{"x":{"datum":0.038,"type":"quantitative","scale":{"domain":[0,1]},"axis":null},"x2":{"datum":0.215},
                  "color":{"field":"n","type":"nominal","legend":null,"scale":{"domain":["W5956_unirradiated","W1552_1.6e15_n_Ljubljana","W1629_1.6e15_n_Ljubljana","W5966_2.6e15_p","W5960_2.6e15_p","W5958_2.6e15_p","W5984_1.5e15_p","W5987_1.5e15_p","W5974_1.4e15_p","W5976_1.4e15_p","W1672_1.9e15_p","W1678_1.9e15_p","W1660_1.7e15_p","W1665_1.7e15_p","W1688_1.6e15_p","W1655_1.5e15_p","W1683_1.5e15_p","W1649_6.0e14_p","W1643_5.6e14_p"],"range":["#000000","#00ff00","#006600","#00ffff","#339999","#99ffff","#000099","#0000ff","#6666ff","#ccccff","#990099","#993399","#ff00ff","#ff66ff","#cc00ff","#9933ff","#6600cc","#ff0000","#ff6666"]}}}},
     {"mark":{"type":"point","filled":true,"size":50,"opacity":1},
      "encoding":{"x":{"datum":0.128,"type":"quantitative","scale":{"domain":[0,1]},"axis":null},
                  "color":{"field":"n","type":"nominal","legend":null}}},
     {"mark":{"type":"text","align":"left","baseline":"middle","font":"DejaVu Sans","fontSize":18.5,"color":"#000"},
      "encoding":{"x":{"datum":0.253,"type":"quantitative","scale":{"domain":[0,1]},"axis":null},"text":{"field":"n"}}}
    ]
   }
  ]
 },
 {"spacing":0,
  "vconcat":[
   {"width":783,"height":37,"view":{"stroke":null},"data":{"values":[{}]},"mark":{"type":"point","opacity":0},
    "title":{"text":"CV Measurements (CpRp,1kHz,1V)","fontSize":35,"baseline":"alphabetic","offset":-43,"anchor":"middle","frame":"group","dx":208}},
   {"bounds":"flush","spacing":16,
    "title":{"text":["CV measurement results (annealed: 60℃, 80min)","All the samples were irradiated with protons at CSNS and","measured at IHEP.","Legend: SampleID_ActualFluence"],"orient":"bottom","anchor":"start","font":"DejaVu Serif","fontSize":42.5,"color":"#00b050","lineHeight":58,"baseline":"top","offset":34,"dx":16},
    "hconcat":[
     {"width":783,"height":688,
      "encoding":{"x":{"field":"v","type":"quantitative","scale":{"domain":[0,800],"nice":false,"zero":false},"axis":null},
                  "y":{"field":"y","type":"quantitative","scale":{"domain":[0.0001,0.0025],"nice":false,"zero":false},"axis":null}},
      "layer":[
       {"data":{"name":"c1"},"mark":{"type":"point","opacity":0},
        "encoding":{"x":{"field":"v","type":"quantitative","scale":{"domain":[0,800],"nice":false,"zero":false},
                         "axis":{"orient":"bottom","values":[0,200,400,600,800],"grid":true,"ticks":false,"labelFontSize":27,"labelBaseline":"alphabetic","labelPadding":29,"title":"Bias Voltage [V]","titleFontSize":27,"titleAlign":"right","titleAnchor":"end","titleBaseline":"alphabetic","titleX":738,"titleY":51}},
                    "y":{"field":"y","type":"quantitative","scale":{"domain":[0.0001,0.0025],"nice":false,"zero":false},
                         "axis":{"orient":"left","values":[0.0005,0.001,0.0015,0.002,0.0025],"format":"~g","grid":true,"ticks":false,"labelFontSize":27,"labelPadding":8,"labelBaseline":"middle","title":"Capacitance⁻² [pF]⁻²","titleFontSize":27,"titleAnchor":"end","titleAlign":"right","titleY":8,"titlePadding":30}}}},
       {"data":{"name":"c1"},"mark":{"type":"point","opacity":0},
        "encoding":{"x":{"field":"v","type":"quantitative","scale":{"domain":[0,800],"nice":false,"zero":false},
                         "axis":{"orient":"bottom","values":[200,400,600],"labels":false,"grid":false,"ticks":true,"tickSize":-14,"title":null}},
                    "y":{"field":"y","type":"quantitative","scale":{"domain":[0.0001,0.0025],"nice":false,"zero":false},
                         "axis":{"orient":"left","values":[0.0005,0.001,0.0015,0.002],"labels":false,"grid":false,"ticks":true,"tickSize":-37,"title":null}}}},
       {"data":{"name":"c1"},"mark":{"type":"point","opacity":0},
        "encoding":{"y":{"field":"y","type":"quantitative","scale":{"domain":[0.0001,0.0025],"nice":false,"zero":false},
                         "axis":{"orient":"left","values":[0.0002,0.0003,0.0004,0.0006,0.0007,0.0008,0.0009,0.0011,0.0012,0.0013,0.0014,0.0016,0.0017,0.0018,0.0019,0.0021,0.0022,0.0023,0.0024],"labels":false,"grid":false,"ticks":true,"tickSize":-18,"title":null}}}},
       {"data":{"name":"c1"},"mark":{"type":"line","color":"#000000","strokeWidth":3,"point":{"filled":true,"size":20,"color":"#000000"}}},
       {"data":{"name":"c2"},"mark":{"type":"line","color":"#00ffff","strokeWidth":1.5,"point":{"filled":true,"size":30,"color":"#00ffff"}}},
       {"data":{"name":"c3"},"mark":{"type":"line","color":"#003d3d","strokeWidth":1.5,"point":{"filled":true,"size":30,"color":"#003d3d"}}},
       {"data":{"name":"c4"},"mark":{"type":"line","color":"#339999","strokeWidth":1.5,"point":{"filled":true,"size":30,"color":"#339999"}}},
       {"data":{"name":"c5"},"mark":{"type":"line","color":"#000099","strokeWidth":1.5,"point":{"filled":true,"size":30,"color":"#000099"}}},
       {"data":{"name":"c6"},"mark":{"type":"line","color":"#0000ff","strokeWidth":1.5,"point":{"filled":true,"size":30,"color":"#0000ff"}}},
       {"data":{"name":"c7"},"mark":{"type":"line","color":"#6666ff","strokeWidth":1.5,"point":{"filled":true,"size":30,"color":"#6666ff"}}},
       {"data":{"name":"c8"},"mark":{"type":"line","color":"#ccccff","strokeWidth":1.5,"point":{"filled":true,"size":30,"color":"#ccccff"}}},
       {"data":{"name":"c9"},"mark":{"type":"line","color":"#990099","strokeWidth":1.5,"point":{"filled":true,"size":30,"color":"#990099"}}},
       {"data":{"name":"c10"},"mark":{"type":"line","color":"#993399","strokeWidth":1.5,"point":{"filled":true,"size":30,"color":"#993399"}}},
       {"data":{"name":"c11"},"mark":{"type":"line","color":"#ff00ff","strokeWidth":1.5,"point":{"filled":true,"size":30,"color":"#ff00ff"}}},
       {"data":{"name":"c12"},"mark":{"type":"line","color":"#ff66ff","strokeWidth":1.5,"point":{"filled":true,"size":30,"color":"#ff66ff"}}},
       {"data":{"name":"c13"},"mark":{"type":"line","color":"#cc00ff","strokeWidth":1.5,"point":{"filled":true,"size":30,"color":"#cc00ff"}}},
       {"data":{"name":"c14"},"mark":{"type":"line","color":"#9933ff","strokeWidth":1.5,"point":{"filled":true,"size":30,"color":"#9933ff"}}},
       {"data":{"name":"c15"},"mark":{"type":"line","color":"#6600cc","strokeWidth":1.5,"point":{"filled":true,"size":30,"color":"#6600cc"}}},
       {"data":{"name":"c16"},"mark":{"type":"line","color":"#ff0000","strokeWidth":1.5,"point":{"filled":true,"size":30,"color":"#ff0000"}}},
       {"data":{"name":"c17"},"mark":{"type":"line","color":"#ff6666","strokeWidth":1.5,"point":{"filled":true,"size":30,"color":"#ff6666"}}}
      ],
      "resolve":{"axis":{"x":"independent","y":"independent"}}
     },
     {"width":311,"height":687,"data":{"name":"cvleg"},
      "encoding":{"y":{"field":"n","type":"nominal","sort":null,"axis":null}},
      "layer":[
       {"mark":{"type":"rule"},
        "encoding":{"x":{"datum":0.035,"type":"quantitative","scale":{"domain":[0,1]},"axis":null},"x2":{"datum":0.203},
                    "strokeWidth":{"condition":{"test":"datum.n === 'W5956_unirradiated'","value":4},"value":2},
                    "color":{"field":"n","type":"nominal","legend":null,"scale":{"domain":["W5956_unirradiated","W5966_2.6e15","W5960_2.6e15","W5958_2.6e15","W5984_1.5e15","W5987_1.5e15","W5974_1.4e15","W5976_1.4e15","W1672_1.9e15","W1678_1.9e15","W1660_1.7e15","W1665_1.7e15","W1688_1.6e15","W1655_1.5e15","W1683_1.5e15","W1649_6.0e14","W1643_5.6e14"],"range":["#000000","#00ffff","#003d3d","#339999","#000099","#0000ff","#6666ff","#ccccff","#990099","#993399","#ff00ff","#ff66ff","#cc00ff","#9933ff","#6600cc","#ff0000","#ff6666"]}}}},
       {"mark":{"type":"point","filled":true,"size":40,"opacity":1},
        "encoding":{"x":{"datum":0.119,"type":"quantitative","scale":{"domain":[0,1]},"axis":null},
                    "color":{"field":"n","type":"nominal","legend":null}}},
       {"mark":{"type":"text","align":"left","baseline":"middle","font":"DejaVu Sans","fontSize":21,"color":"#000"},
        "encoding":{"x":{"datum":0.248,"type":"quantitative","scale":{"domain":[0,1]},"axis":null},"text":{"field":"n"}}}
      ]
     }
    ]
   }
  ]
 }
]
}
